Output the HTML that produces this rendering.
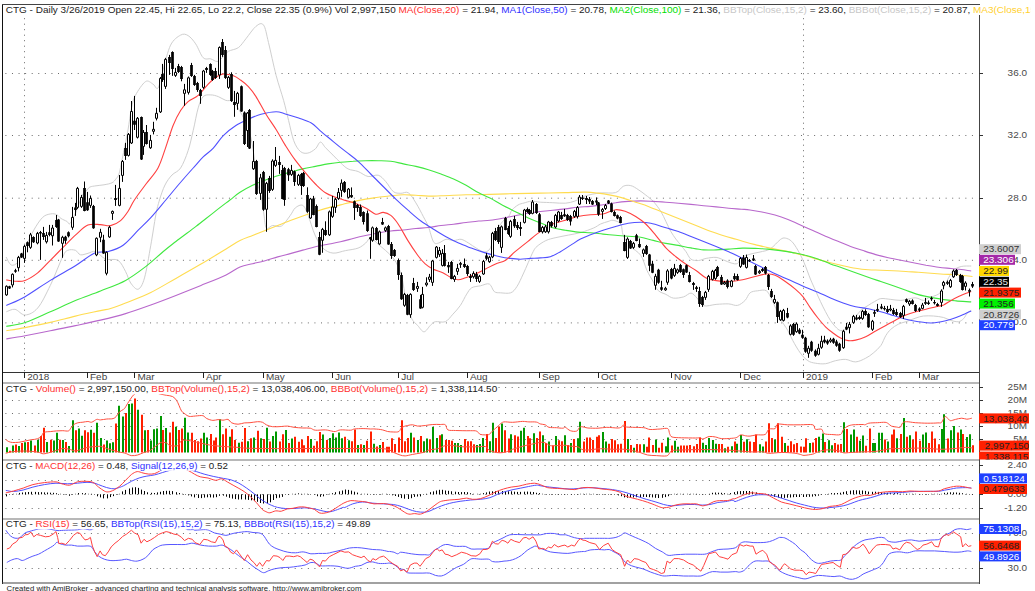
<!DOCTYPE html>
<html><head><meta charset="utf-8"><title>CTG - Daily</title>
<style>html,body{margin:0;padding:0;background:#fff}svg{display:block}</style>
</head><body>
<svg width="1035" height="591" viewBox="0 0 1035 591" font-family="'Liberation Sans', sans-serif">
<rect width="1035" height="591" fill="#fff"/>
<defs>
<clipPath id="cm"><rect x="3" y="5" width="976" height="367"/></clipPath>
<clipPath id="cv"><rect x="3" y="384" width="976" height="76"/></clipPath>
<clipPath id="cd"><rect x="3" y="461" width="976" height="57"/></clipPath>
<clipPath id="cr"><rect x="3" y="520" width="976" height="63"/></clipPath>
<clipPath id="ct"><rect x="0" y="0" width="1030.5" height="20"/></clipPath>
<clipPath id="cl"><rect x="975" y="440" width="54.2" height="19.6"/></clipPath>
</defs>
<line x1="5.4" y1="73.5" x2="977" y2="73.5" stroke="#6a6a6a" stroke-width="1" stroke-dasharray="1 5.575"/>
<line x1="5.4" y1="135.5" x2="977" y2="135.5" stroke="#6a6a6a" stroke-width="1" stroke-dasharray="1 5.575"/>
<line x1="5.4" y1="198.2" x2="977" y2="198.2" stroke="#6a6a6a" stroke-width="1" stroke-dasharray="1 5.575"/>
<line x1="5.4" y1="260.3" x2="977" y2="260.3" stroke="#6a6a6a" stroke-width="1" stroke-dasharray="1 5.575"/>
<line x1="5.4" y1="322.9" x2="977" y2="322.9" stroke="#6a6a6a" stroke-width="1" stroke-dasharray="1 5.575"/>
<line x1="24.5" y1="18.2" x2="24.5" y2="372" stroke="#6a6a6a" stroke-width="1" stroke-dasharray="1 4.5"/>
<line x1="803.5" y1="18.2" x2="803.5" y2="372" stroke="#6a6a6a" stroke-width="1" stroke-dasharray="1 4.5"/>
<line x1="5.4" y1="387.5" x2="977" y2="387.5" stroke="#6a6a6a" stroke-width="1" stroke-dasharray="1 5.575"/>
<line x1="5.4" y1="400.5" x2="977" y2="400.5" stroke="#6a6a6a" stroke-width="1" stroke-dasharray="1 5.575"/>
<line x1="5.4" y1="413.5" x2="977" y2="413.5" stroke="#6a6a6a" stroke-width="1" stroke-dasharray="1 5.575"/>
<line x1="5.4" y1="426.5" x2="977" y2="426.5" stroke="#6a6a6a" stroke-width="1" stroke-dasharray="1 5.575"/>
<line x1="5.4" y1="439.5" x2="977" y2="439.5" stroke="#6a6a6a" stroke-width="1" stroke-dasharray="1 5.575"/>
<line x1="5.4" y1="465.5" x2="977" y2="465.5" stroke="#6a6a6a" stroke-width="1" stroke-dasharray="1 5.575"/>
<line x1="5.4" y1="480.5" x2="977" y2="480.5" stroke="#6a6a6a" stroke-width="1" stroke-dasharray="1 5.575"/>
<line x1="5.4" y1="494.5" x2="977" y2="494.5" stroke="#6a6a6a" stroke-width="1" stroke-dasharray="1 5.575"/>
<line x1="5.4" y1="508.5" x2="977" y2="508.5" stroke="#6a6a6a" stroke-width="1" stroke-dasharray="1 5.575"/>
<line x1="5.4" y1="533.5" x2="977" y2="533.5" stroke="#6a6a6a" stroke-width="1" stroke-dasharray="1 5.575"/>
<line x1="5.4" y1="568.5" x2="977" y2="568.5" stroke="#6a6a6a" stroke-width="1" stroke-dasharray="1 5.575"/>
<g clip-path="url(#cm)">
<path d="M6.1,257.0 C6.9,258.3 9.2,264.2 11.2,265.0 C13.2,265.8 15.7,264.8 18.0,262.0 C20.3,259.2 22.4,253.2 25.0,248.0 C27.6,242.8 30.6,235.7 33.5,230.6 C36.4,225.5 39.7,220.2 42.6,217.4 C45.5,214.6 48.3,214.4 50.7,213.9 C53.1,213.4 55.1,213.9 56.8,214.7 C58.5,215.4 59.2,217.3 60.9,218.4 C62.6,219.5 65.4,220.6 66.9,221.4 C68.4,222.2 68.5,225.1 70.0,223.5 C71.5,221.9 74.0,216.6 76.0,212.0 C78.0,207.4 80.2,199.7 82.0,196.0 C83.8,192.3 85.7,191.5 87.0,190.0 C88.3,188.5 88.5,187.7 90.0,187.0 C91.5,186.3 93.7,186.2 96.0,185.8 C98.3,185.4 101.3,185.3 104.0,184.8 C106.7,184.3 110.0,183.8 112.0,182.8 C114.0,181.8 114.8,180.3 116.0,178.8 C117.2,177.3 118.0,177.0 119.0,173.9 C120.0,170.8 121.0,164.8 122.0,160.0 C123.0,155.2 124.0,150.0 125.0,145.0 C126.0,140.0 126.9,136.2 128.0,130.0 C129.1,123.8 130.3,113.8 131.5,108.0 C132.7,102.2 133.1,99.8 135.4,95.4 C137.7,91.0 142.6,83.5 145.5,81.6 C148.4,79.7 150.9,83.0 153.0,84.1 C155.1,85.2 156.3,90.3 158.0,88.0 C159.7,85.7 160.9,77.2 163.0,70.0 C165.1,62.9 167.7,50.9 170.6,45.1 C173.5,39.3 177.7,36.7 180.6,35.1 C183.5,33.5 185.6,34.1 188.1,35.6 C190.6,37.1 193.2,40.2 195.7,43.9 C198.2,47.6 200.7,55.2 203.2,57.7 C205.7,60.2 208.5,58.3 210.8,58.9 C213.1,59.5 215.1,61.6 217.0,61.5 C218.9,61.4 220.1,59.7 222.0,58.0 C223.9,56.3 225.6,53.1 228.3,51.4 C231.0,49.7 235.5,49.7 238.4,47.6 C241.3,45.5 243.0,42.3 245.9,38.8 C248.8,35.2 253.1,28.6 256.0,26.3 C258.9,24.0 261.4,22.3 263.5,25.0 C265.6,27.7 266.4,34.2 268.5,42.6 C270.6,51.0 273.6,65.7 276.1,75.3 C278.6,84.9 281.5,92.9 283.6,100.4 C285.7,107.9 286.9,113.8 288.6,120.5 C290.3,127.2 291.8,135.4 293.7,140.6 C295.6,145.8 297.9,149.3 300.3,151.4 C302.7,153.5 305.3,153.5 307.8,153.1 C310.3,152.7 313.3,150.6 315.4,148.8 C317.5,147.0 318.7,142.3 320.4,142.1 C322.1,141.9 323.3,145.4 325.4,147.6 C327.5,149.8 330.5,152.6 333.0,155.1 C335.5,157.6 338.0,160.4 340.5,162.7 C343.0,165.0 345.1,167.4 348.0,168.9 C350.9,170.4 354.8,170.2 358.1,171.5 C361.5,172.8 364.8,175.9 368.1,176.5 C371.5,177.1 375.3,174.4 378.2,175.2 C381.1,176.0 383.2,178.8 385.7,181.5 C388.2,184.2 390.8,189.6 393.3,191.6 C395.8,193.6 398.3,193.1 400.8,193.3 C403.3,193.5 405.8,191.2 408.3,192.8 C410.8,194.4 413.4,198.9 415.9,202.9 C418.4,206.9 421.3,212.7 423.4,216.7 C425.5,220.7 426.7,222.5 428.4,226.7 C430.1,230.9 431.8,239.1 433.5,241.8 C435.2,244.5 436.4,243.5 438.5,243.1 C440.6,242.7 443.5,239.7 446.0,239.3 C448.5,238.9 451.1,240.6 453.6,240.6 C456.1,240.6 458.6,238.9 461.1,239.3 C463.6,239.7 466.1,241.6 468.6,243.1 C471.1,244.6 473.7,246.6 476.2,248.1 C478.7,249.6 481.6,251.6 483.7,251.9 C485.8,252.2 487.6,251.3 489.0,250.0 C490.4,248.7 490.8,246.8 492.0,244.0 C493.2,241.2 494.7,236.2 496.0,233.0 C497.3,229.8 498.5,227.3 500.0,225.0 C501.5,222.7 503.5,220.5 505.0,219.0 C506.5,217.5 507.8,217.5 509.0,216.0 C510.2,214.5 510.5,211.8 512.0,210.0 C513.5,208.2 516.0,206.2 518.0,205.0 C520.0,203.8 521.8,203.6 524.0,203.0 C526.2,202.4 528.8,201.3 531.5,201.2 C534.2,201.1 536.8,201.9 540.3,202.2 C543.8,202.4 548.6,202.5 552.8,202.7 C557.0,202.9 561.7,203.5 565.4,203.2 C569.1,202.9 571.7,202.2 575.0,201.0 C578.3,199.8 580.8,197.3 585.0,196.0 C589.2,194.7 594.9,193.6 600.0,193.0 C605.1,192.4 611.7,193.7 615.6,192.6 C619.5,191.5 620.7,187.5 623.2,186.3 C625.7,185.1 628.2,185.1 630.7,185.6 C633.2,186.1 635.7,188.0 638.2,189.6 C640.7,191.2 643.3,193.1 645.8,195.1 C648.3,197.1 650.8,198.7 653.3,201.4 C655.8,204.1 658.8,208.2 660.9,211.5 C663.0,214.8 664.2,218.2 665.9,221.5 C667.6,224.8 669.2,228.7 670.9,231.6 C672.6,234.5 674.2,236.8 675.9,239.1 C677.6,241.4 679.3,243.3 681.0,245.4 C682.7,247.5 684.3,249.4 686.0,251.7 C687.7,254.0 688.9,257.7 691.0,259.2 C693.1,260.7 696.0,260.6 698.5,260.5 C701.0,260.4 703.2,258.9 706.1,258.4 C709.0,257.9 713.2,257.1 716.1,257.4 C719.0,257.7 721.2,259.1 723.7,260.0 C726.2,260.9 728.9,262.4 731.2,263.0 C733.5,263.6 735.8,264.4 737.5,263.5 C739.2,262.6 739.2,259.4 741.3,257.9 C743.4,256.3 746.9,255.2 750.0,254.2 C753.1,253.2 756.6,252.9 760.0,252.0 C763.4,251.1 766.8,251.0 770.2,248.9 C773.6,246.8 777.8,241.4 780.3,239.6 C782.8,237.8 783.4,237.8 785.3,238.1 C787.2,238.4 789.5,239.3 791.6,241.3 C793.7,243.3 795.7,246.5 797.8,250.1 C799.9,253.7 802.0,257.9 804.1,262.7 C806.2,267.5 808.5,274.4 810.4,279.0 C812.3,283.6 813.7,286.5 815.4,290.3 C817.1,294.1 818.8,298.0 820.5,301.6 C822.2,305.2 823.8,308.6 825.5,311.7 C827.2,314.8 828.8,318.0 830.5,320.5 C832.2,323.0 833.8,325.1 835.5,326.8 C837.2,328.5 838.5,330.3 840.6,330.5 C842.7,330.7 845.6,330.1 848.0,328.0 C850.4,325.9 852.9,320.9 855.0,318.0 C857.1,315.1 858.5,312.5 860.7,310.4 C862.9,308.3 865.9,306.9 868.2,305.4 C870.5,303.9 872.4,302.7 874.5,301.6 C876.6,300.5 878.1,299.0 880.8,298.6 C883.5,298.2 887.4,299.1 890.8,299.4 C894.1,299.7 898.0,300.5 900.9,300.4 C903.8,300.3 905.5,299.4 908.0,299.0 C910.5,298.6 913.3,297.7 915.9,297.9 C918.5,298.1 921.4,300.4 923.5,300.4 C925.6,300.4 926.0,298.9 928.5,297.9 C931.0,296.8 936.0,295.8 938.5,294.1 C941.0,292.4 941.9,290.5 943.6,287.8 C945.3,285.1 946.9,280.7 948.6,277.8 C950.3,274.9 951.5,272.1 953.6,270.2 C955.7,268.3 958.3,267.2 961.2,266.5 C964.1,265.8 969.5,266.1 971.2,266.0" fill="none" stroke="#cfcfcf" stroke-width="1" stroke-linejoin="round" opacity="1"/>
<path d="M6.3,311.8 C7.8,311.4 11.9,308.8 15.0,309.3 C18.1,309.8 21.3,315.2 25.1,315.0 C28.9,314.8 33.5,312.9 37.7,308.0 C41.9,303.1 46.1,294.0 50.3,285.4 C54.5,276.8 59.9,262.4 62.8,256.5 C65.7,250.7 65.7,251.3 67.8,250.3 C69.9,249.3 73.3,249.6 75.4,250.3 C77.5,251.1 78.3,254.3 80.4,254.8 C82.5,255.3 85.5,253.9 88.0,253.3 C90.5,252.8 92.6,250.6 95.5,251.5 C98.4,252.4 101.8,257.5 105.5,259.0 C109.2,260.5 114.7,258.2 118.0,260.3 C121.3,262.4 123.5,267.8 125.6,271.6 C127.7,275.4 128.6,280.1 130.7,283.0 C132.8,285.9 135.9,290.1 138.2,289.2 C140.5,288.3 142.4,285.2 144.5,277.9 C146.6,270.6 148.9,255.7 150.8,245.2 C152.7,234.7 154.4,222.5 155.8,215.0 C157.2,207.5 158.0,205.0 159.5,200.0 C161.0,195.0 162.9,189.2 165.0,185.0 C167.1,180.8 169.4,177.8 172.0,175.0 C174.6,172.2 177.9,172.1 180.6,168.0 C183.3,163.9 186.0,156.9 188.1,150.7 C190.2,144.5 191.5,137.7 193.2,130.6 C194.9,123.5 196.5,113.6 198.2,107.9 C199.9,102.2 201.1,98.8 203.2,96.6 C205.3,94.4 208.3,94.9 210.8,94.9 C213.3,94.9 215.8,95.7 218.3,96.6 C220.8,97.5 223.3,99.6 225.8,100.4 C228.3,101.2 230.9,99.6 233.4,101.7 C235.9,103.8 238.8,109.5 240.9,113.0 C243.0,116.5 244.2,118.8 245.9,123.0 C247.6,127.2 249.5,131.8 251.0,138.1 C252.5,144.4 253.5,152.9 254.7,160.7 C255.9,168.5 256.9,178.8 258.0,185.0 C259.1,191.2 260.4,192.8 261.4,197.8 C262.4,202.8 263.2,210.0 264.0,215.0 C264.8,220.0 264.9,226.2 266.4,228.0 C267.8,229.8 270.2,225.8 272.7,225.5 C275.2,225.2 278.6,227.7 281.5,226.0 C284.4,224.3 288.0,218.4 290.3,215.4 C292.6,212.4 293.2,209.6 295.3,207.9 C297.4,206.2 300.7,204.2 302.8,205.4 C304.9,206.6 306.0,210.1 308.0,215.0 C310.0,219.9 312.5,229.5 315.0,235.0 C317.5,240.5 319.9,245.1 322.9,248.1 C325.9,251.1 329.2,252.7 333.0,253.1 C336.8,253.5 341.3,251.4 345.5,250.6 C349.7,249.8 354.8,249.3 358.1,248.1 C361.5,246.8 363.5,244.8 365.6,243.1 C367.7,241.4 368.6,237.8 370.7,238.0 C372.8,238.2 375.7,242.2 378.2,244.3 C380.7,246.4 383.2,248.3 385.7,250.6 C388.2,252.9 391.2,255.4 393.3,258.1 C395.4,260.8 396.8,263.6 398.3,266.9 C399.8,270.2 400.8,272.5 402.1,278.0 C403.4,283.5 404.4,293.3 406.0,300.0 C407.6,306.7 409.4,313.8 411.4,318.0 C413.3,322.2 415.6,323.2 417.7,325.5 C419.8,327.8 421.9,331.8 424.0,331.8 C426.1,331.8 428.4,327.2 430.3,325.5 C432.2,323.8 432.8,322.3 435.3,321.7 C437.8,321.1 442.4,322.9 445.3,321.7 C448.2,320.4 450.4,316.9 452.9,314.2 C455.4,311.5 458.1,308.8 460.4,305.4 C462.7,302.0 464.8,297.0 466.7,294.1 C468.6,291.2 469.4,289.2 471.7,287.8 C474.0,286.4 477.6,286.4 480.5,285.8 C483.4,285.2 487.0,283.0 489.3,284.0 C491.6,285.0 492.4,290.1 494.3,291.6 C496.2,293.1 497.9,292.6 500.6,292.8 C503.3,293.0 508.0,293.8 510.7,292.8 C513.4,291.8 514.8,289.7 516.9,286.6 C519.0,283.5 521.3,278.0 523.2,274.0 C525.1,270.0 526.5,266.5 528.2,262.7 C529.9,258.9 531.8,254.1 533.3,251.4 C534.8,248.7 534.9,248.2 537.0,246.4 C539.1,244.6 542.6,242.1 545.8,240.6 C548.9,239.1 552.1,238.5 555.9,237.6 C559.7,236.7 564.2,235.9 568.4,235.1 C572.6,234.2 576.8,233.7 581.0,232.5 C585.2,231.3 590.3,229.4 593.6,228.0 C596.9,226.6 598.2,225.1 600.6,224.0 C603.0,222.9 606.0,222.1 608.1,221.5 C610.2,220.9 611.0,219.9 613.1,220.3 C615.2,220.7 619.0,221.5 620.7,224.0 C622.4,226.5 621.7,231.6 623.2,235.3 C624.8,239.0 627.1,242.7 630.0,246.0 C632.9,249.3 638.0,251.3 640.8,255.4 C643.6,259.5 644.9,266.1 647.0,270.5 C649.1,274.9 651.4,278.4 653.3,281.8 C655.2,285.2 656.2,288.5 658.3,290.6 C660.4,292.7 663.4,293.1 665.9,294.4 C668.4,295.6 670.5,297.7 673.4,298.1 C676.3,298.5 680.6,297.7 683.5,296.9 C686.4,296.1 688.8,292.9 691.0,293.1 C693.2,293.3 694.9,295.9 697.0,298.0 C699.1,300.1 700.4,304.6 703.6,305.7 C706.8,306.8 711.9,304.7 716.1,304.4 C720.3,304.1 725.1,303.7 728.7,303.9 C732.3,304.1 734.8,306.0 737.5,305.4 C740.2,304.8 743.0,302.5 745.1,300.4 C747.2,298.3 748.0,294.4 750.1,292.8 C752.2,291.2 754.9,291.1 757.6,290.8 C760.3,290.5 764.0,289.3 766.4,290.8 C768.8,292.3 769.7,295.5 772.0,300.0 C774.3,304.5 777.4,312.9 780.0,318.0 C782.6,323.1 785.7,326.7 787.8,330.5 C789.9,334.3 790.7,336.8 792.8,340.6 C794.9,344.4 797.9,349.8 800.4,353.1 C802.9,356.5 805.4,359.0 807.9,360.7 C810.4,362.4 812.5,362.7 815.4,363.2 C818.3,363.7 822.1,364.1 825.5,363.7 C828.9,363.3 832.1,361.4 835.5,360.7 C838.9,360.0 842.2,359.2 845.6,359.4 C849.0,359.6 852.2,362.1 855.6,361.9 C859.0,361.7 862.8,359.7 865.7,358.2 C868.6,356.7 870.7,355.2 873.2,353.1 C875.7,351.0 878.7,348.5 880.8,345.6 C882.9,342.7 884.1,338.3 885.8,335.6 C887.5,332.9 888.7,331.2 890.8,329.3 C892.9,327.4 895.8,325.5 898.3,324.2 C900.8,322.9 903.0,322.7 905.9,321.7 C908.8,320.7 913.0,318.9 915.9,318.0 C918.8,317.1 920.6,316.3 923.5,316.0 C926.4,315.7 930.1,315.8 933.5,316.0 C936.9,316.2 940.7,316.8 943.6,317.5 C946.5,318.2 948.6,319.8 951.1,320.5 C953.6,321.2 956.5,322.0 958.6,321.7 C960.7,321.4 962.2,320.0 963.7,318.5 C965.2,317.0 966.1,314.2 967.4,312.9 C968.6,311.5 970.6,310.8 971.2,310.4" fill="none" stroke="#cfcfcf" stroke-width="1" stroke-linejoin="round" opacity="1"/>
<path d="M6.3,338.9 C9.4,338.4 17.8,337.1 25.1,335.7 C32.4,334.3 41.9,332.4 50.3,330.7 C58.7,329.0 67.0,327.4 75.4,325.6 C83.8,323.8 92.1,322.1 100.5,320.1 C108.9,318.1 117.2,316.1 125.6,313.6 C134.0,311.1 142.4,308.0 150.8,305.0 C159.2,302.0 167.5,298.8 175.9,295.5 C184.3,292.2 192.6,288.8 201.0,285.4 C209.4,282.0 219.6,278.0 226.1,274.9 C232.6,271.8 235.6,268.8 240.0,266.9 C244.4,265.0 248.4,264.7 252.6,263.7 C256.8,262.7 260.9,261.8 265.1,260.7 C269.3,259.6 273.5,258.1 277.7,256.9 C281.9,255.7 286.1,254.7 290.3,253.6 C294.5,252.5 298.6,251.2 302.8,250.1 C307.0,249.0 311.2,247.8 315.4,246.8 C319.6,245.8 323.7,245.1 327.9,244.3 C332.1,243.5 336.3,242.8 340.5,241.8 C344.7,240.8 348.9,239.6 353.1,238.5 C357.3,237.4 361.4,236.4 365.6,235.5 C369.8,234.6 374.0,233.8 378.2,233.0 C382.4,232.2 386.6,231.5 390.8,231.0 C395.0,230.5 399.1,230.4 403.3,230.0 C407.5,229.6 411.7,228.9 415.9,228.5 C420.1,228.1 424.2,228.0 428.4,227.5 C432.6,227.0 436.8,226.1 441.0,225.5 C445.2,224.9 449.4,224.7 453.6,224.2 C457.8,223.7 461.9,223.0 466.1,222.5 C470.3,222.0 474.7,221.4 478.7,221.0 C482.7,220.6 486.0,220.8 490.0,220.3 C494.0,219.8 498.4,219.0 502.6,218.2 C506.8,217.4 510.9,216.5 515.1,215.7 C519.3,214.9 523.5,213.9 527.7,213.2 C531.9,212.5 536.1,212.0 540.3,211.5 C544.5,211.0 548.6,210.6 552.8,210.2 C557.0,209.8 561.2,209.4 565.4,208.9 C569.6,208.4 573.7,207.6 577.9,207.2 C582.1,206.8 586.3,206.8 590.5,206.4 C594.7,206.0 598.9,205.3 603.1,204.7 C607.3,204.1 611.4,203.2 615.6,202.7 C619.8,202.1 624.0,201.7 628.2,201.4 C632.4,201.1 636.6,200.9 640.8,200.9 C645.0,200.9 649.1,201.2 653.3,201.4 C657.5,201.6 661.7,201.9 665.9,202.2 C670.1,202.5 674.2,202.8 678.4,203.2 C682.6,203.6 686.8,204.0 691.0,204.4 C695.2,204.8 699.4,205.3 703.6,205.7 C707.8,206.1 711.9,206.5 716.1,206.9 C720.3,207.3 724.5,207.8 728.7,208.2 C732.9,208.6 737.8,208.9 741.3,209.2 C744.8,209.5 746.5,209.5 750.0,210.0 C753.5,210.5 757.8,211.2 762.0,212.0 C766.2,212.8 770.7,213.8 775.0,215.0 C779.3,216.2 783.8,217.8 788.0,219.5 C792.2,221.2 796.2,223.2 800.4,225.0 C804.5,226.8 808.7,228.6 812.9,230.5 C817.1,232.4 821.3,234.5 825.5,236.3 C829.7,238.1 833.8,239.6 838.0,241.3 C842.2,243.0 846.4,244.9 850.6,246.4 C854.8,247.9 859.0,249.2 863.2,250.6 C867.4,252.0 871.5,253.4 875.7,254.6 C879.9,255.8 884.1,256.8 888.3,257.7 C892.5,258.6 896.7,259.4 900.9,260.2 C905.1,261.0 909.2,261.9 913.4,262.7 C917.6,263.5 921.8,264.4 926.0,265.2 C930.2,265.9 934.3,266.6 938.5,267.2 C942.7,267.8 947.3,268.1 951.1,268.5 C954.9,268.9 957.9,269.1 961.2,269.5 C964.6,269.9 969.5,270.8 971.2,271.0" fill="none" stroke="#b868cc" stroke-width="1.1" stroke-linejoin="round" opacity="1"/>
<path d="M6.3,330.7 C9.4,330.2 17.8,329.0 25.1,327.6 C32.4,326.2 41.9,324.3 50.3,322.4 C58.7,320.5 67.0,318.1 75.4,316.1 C83.8,314.1 94.6,311.9 100.5,310.6 C106.4,309.3 106.4,309.8 110.6,308.5 C114.8,307.2 118.9,305.7 125.6,303.0 C132.3,300.3 142.4,296.6 150.8,292.5 C159.2,288.4 167.5,283.1 175.9,278.4 C184.3,273.7 192.6,269.0 201.0,264.1 C209.4,259.2 219.6,252.9 226.1,249.0 C232.6,245.1 235.6,242.8 240.0,240.6 C244.4,238.3 248.4,237.2 252.6,235.5 C256.8,233.8 260.9,232.2 265.1,230.5 C269.3,228.8 273.5,227.2 277.7,225.5 C281.9,223.8 286.1,222.1 290.3,220.5 C294.5,218.9 298.6,217.4 302.8,215.9 C307.0,214.4 311.2,213.0 315.4,211.7 C319.6,210.4 323.7,209.0 327.9,207.9 C332.1,206.8 336.3,206.0 340.5,204.9 C344.7,203.8 348.9,202.6 353.1,201.6 C357.3,200.6 361.4,199.8 365.6,199.1 C369.8,198.4 374.0,197.9 378.2,197.3 C382.4,196.8 386.6,196.2 390.8,195.8 C395.0,195.4 399.1,194.9 403.3,194.8 C407.5,194.7 411.7,195.1 415.9,195.3 C420.1,195.5 424.2,196.0 428.4,196.1 C432.6,196.2 436.8,195.9 441.0,195.8 C445.2,195.7 449.4,195.5 453.6,195.3 C457.8,195.1 461.9,194.9 466.1,194.8 C470.3,194.7 474.7,194.7 478.7,194.6 C482.7,194.5 483.9,194.6 490.0,194.4 C496.1,194.2 506.7,193.8 515.1,193.6 C523.5,193.4 531.9,193.3 540.3,193.1 C548.7,192.9 557.9,192.8 565.4,192.6 C572.9,192.4 580.1,192.0 585.5,192.1 C590.9,192.2 593.8,192.6 598.0,193.1 C602.2,193.6 606.4,194.3 610.6,195.1 C614.8,195.9 619.0,196.9 623.2,198.1 C627.4,199.3 631.5,200.8 635.7,202.2 C639.9,203.6 644.1,204.8 648.3,206.4 C652.5,208.0 656.7,209.8 660.9,211.5 C665.1,213.2 669.2,214.8 673.4,216.5 C677.6,218.2 681.8,219.8 686.0,221.5 C690.2,223.2 694.3,224.8 698.5,226.5 C702.7,228.2 706.9,230.0 711.1,231.6 C715.3,233.2 719.5,234.5 723.7,235.8 C727.9,237.1 733.1,238.4 736.2,239.3 C739.4,240.2 739.5,240.4 742.6,241.3 C745.8,242.2 750.9,243.6 755.1,244.6 C759.3,245.6 763.5,246.7 767.7,247.6 C771.9,248.5 776.1,249.3 780.3,250.1 C784.5,250.9 788.6,251.7 792.8,252.6 C797.0,253.5 801.2,254.6 805.4,255.7 C809.6,256.8 813.7,258.2 817.9,259.4 C822.1,260.6 826.3,261.6 830.5,262.7 C834.7,263.8 838.9,264.8 843.1,265.7 C847.3,266.6 851.4,267.5 855.6,268.2 C859.8,268.9 864.0,269.4 868.2,269.7 C872.4,270.0 876.6,270.0 880.8,270.2 C885.0,270.4 889.1,270.5 893.3,270.7 C897.5,270.9 901.7,271.2 905.9,271.5 C910.1,271.8 914.2,271.9 918.4,272.2 C922.6,272.5 926.8,272.9 931.0,273.2 C935.2,273.5 939.4,273.9 943.6,274.2 C947.8,274.4 952.3,274.4 956.1,274.7 C959.9,275.0 963.5,275.5 966.2,275.8 C968.9,276.1 971.5,276.4 972.5,276.5" fill="none" stroke="#ffdc50" stroke-width="1.1" stroke-linejoin="round" opacity="1"/>
<path d="M6.3,326.4 C9.4,325.8 17.8,325.0 25.1,322.6 C32.4,320.2 41.9,315.5 50.3,311.8 C58.7,308.1 67.0,304.0 75.4,300.5 C83.8,297.0 92.1,294.4 100.5,291.0 C108.9,287.6 118.1,284.5 125.6,280.4 C133.1,276.3 139.4,271.4 145.7,266.6 C152.0,261.8 158.3,255.7 163.3,251.5 C168.3,247.3 170.5,245.7 175.9,241.5 C181.3,237.3 189.7,231.2 196.0,226.4 C202.3,221.6 207.9,217.0 213.6,212.6 C219.2,208.2 225.5,203.4 229.9,200.0 C234.3,196.6 236.2,194.8 240.0,192.3 C243.8,189.9 248.4,187.3 252.6,185.3 C256.8,183.3 260.9,181.9 265.1,180.3 C269.3,178.7 273.5,177.0 277.7,175.7 C281.9,174.3 286.1,173.3 290.3,172.2 C294.5,171.1 298.6,169.9 302.8,168.9 C307.0,167.9 311.2,167.2 315.4,166.4 C319.6,165.6 323.7,164.6 327.9,163.9 C332.1,163.2 336.3,162.6 340.5,162.2 C344.7,161.8 348.9,161.4 353.1,161.2 C357.3,160.9 361.4,160.8 365.6,160.7 C369.8,160.6 374.0,160.6 378.2,160.7 C382.4,160.8 386.6,160.7 390.8,161.2 C395.0,161.7 399.1,163.0 403.3,163.9 C407.5,164.8 411.7,165.4 415.9,166.4 C420.1,167.4 424.2,168.4 428.4,169.7 C432.6,171.0 436.8,172.4 441.0,174.0 C445.2,175.6 449.4,177.1 453.6,179.0 C457.8,180.9 461.9,183.0 466.1,185.3 C470.3,187.6 474.7,190.7 478.7,192.8 C482.7,194.9 486.0,196.0 490.0,198.1 C494.0,200.2 498.4,203.0 502.6,205.2 C506.8,207.4 510.9,209.4 515.1,211.5 C519.3,213.6 523.5,215.8 527.7,217.7 C531.9,219.6 536.1,221.1 540.3,222.8 C544.5,224.5 548.6,226.6 552.8,227.8 C557.0,229.1 561.2,229.6 565.4,230.3 C569.6,231.0 573.7,231.7 577.9,232.1 C582.1,232.5 586.3,232.5 590.5,232.8 C594.7,233.1 598.9,233.7 603.1,234.1 C607.3,234.5 611.4,234.9 615.6,235.3 C619.8,235.7 624.0,236.0 628.2,236.3 C632.4,236.6 636.6,236.6 640.8,237.3 C645.0,238.0 649.1,239.4 653.3,240.4 C657.5,241.4 661.7,242.6 665.9,243.4 C670.1,244.2 674.2,244.7 678.4,245.4 C682.6,246.2 686.8,247.2 691.0,247.9 C695.2,248.7 699.4,249.6 703.6,249.9 C707.8,250.2 711.9,250.0 716.1,249.9 C720.3,249.8 724.3,249.4 728.7,249.1 C733.1,248.8 738.2,248.2 742.6,248.1 C747.0,248.0 750.9,248.2 755.1,248.4 C759.3,248.6 763.5,248.7 767.7,249.1 C771.9,249.5 776.1,250.0 780.3,250.6 C784.5,251.2 788.6,251.8 792.8,252.6 C797.0,253.4 801.2,254.1 805.4,255.2 C809.6,256.2 813.7,257.4 817.9,258.9 C822.1,260.3 826.3,262.3 830.5,263.9 C834.7,265.4 838.9,266.7 843.1,268.2 C847.3,269.7 851.4,271.2 855.6,272.7 C859.8,274.2 864.0,275.8 868.2,277.3 C872.4,278.8 876.6,280.1 880.8,281.5 C885.0,282.9 889.1,284.3 893.3,285.8 C897.5,287.3 901.7,288.8 905.9,290.3 C910.1,291.8 914.2,293.4 918.4,294.6 C922.6,295.8 926.8,296.6 931.0,297.4 C935.2,298.2 939.4,299.0 943.6,299.6 C947.8,300.2 951.5,300.5 956.1,300.9 C960.7,301.3 968.7,301.7 971.2,301.9" fill="none" stroke="#40e840" stroke-width="1.1" stroke-linejoin="round" opacity="1"/>
<path d="M6.3,305.5 C9.4,304.0 17.8,300.9 25.1,296.7 C32.4,292.5 41.9,285.5 50.3,280.4 C58.7,275.2 68.1,270.3 75.4,265.8 C82.7,261.3 88.8,255.7 94.2,253.3 C99.6,250.9 103.2,252.8 108.0,251.5 C112.8,250.2 118.1,248.8 123.1,245.2 C128.1,241.6 133.6,234.8 138.2,230.2 C142.8,225.6 146.2,222.6 150.8,217.6 C155.4,212.6 160.9,205.8 165.8,200.0 C170.7,194.2 175.4,188.3 180.0,183.0 C184.6,177.7 189.3,172.3 193.2,168.0 C197.1,163.7 199.8,160.2 203.2,156.9 C206.5,153.6 210.0,151.7 213.3,148.1 C216.7,144.5 219.5,139.4 223.3,135.6 C227.1,131.8 231.7,128.2 235.9,125.5 C240.1,122.8 244.2,121.1 248.4,119.2 C252.6,117.3 256.4,115.5 261.0,114.2 C265.6,113.0 271.9,111.7 276.1,111.7 C280.3,111.7 282.3,113.2 286.1,114.2 C289.9,115.2 294.5,116.5 298.7,118.0 C302.9,119.5 307.8,120.9 311.3,123.0 C314.9,125.1 316.4,127.5 320.0,130.6 C323.6,133.7 328.8,137.8 333.0,141.3 C337.2,144.8 341.3,148.1 345.5,151.4 C349.7,154.8 353.9,157.6 358.1,161.4 C362.3,165.2 366.5,169.8 370.7,174.0 C374.9,178.2 379.0,182.3 383.2,186.5 C387.4,190.7 391.6,195.1 395.8,199.1 C400.0,203.1 404.1,206.8 408.3,210.4 C412.5,214.1 416.7,217.9 420.9,221.0 C425.1,224.1 429.3,226.6 433.5,229.2 C437.7,231.8 441.8,234.5 446.0,236.8 C450.2,239.1 454.4,241.2 458.6,243.1 C462.8,245.0 467.0,246.5 471.2,248.1 C475.4,249.7 478.9,251.0 483.7,252.4 C488.5,253.8 495.7,255.7 500.1,256.7 C504.5,257.7 506.8,258.0 510.1,258.4 C513.5,258.8 516.9,259.2 520.2,259.2 C523.6,259.2 526.9,258.6 530.2,258.4 C533.6,258.2 536.9,258.2 540.3,257.9 C543.6,257.6 546.9,257.7 550.3,256.7 C553.6,255.7 557.0,253.6 560.4,251.7 C563.8,249.8 567.0,247.5 570.4,245.4 C573.8,243.3 577.1,240.9 580.5,239.1 C583.9,237.3 586.7,236.3 590.5,234.8 C594.3,233.3 598.9,231.7 603.1,230.3 C607.3,228.9 611.4,227.7 615.6,226.5 C619.8,225.3 624.0,224.0 628.2,223.3 C632.4,222.6 637.0,222.3 640.8,222.3 C644.6,222.3 646.6,222.4 650.8,223.3 C655.0,224.2 661.3,226.4 665.9,227.8 C670.5,229.2 674.2,230.1 678.4,231.6 C682.6,233.1 686.8,234.9 691.0,236.6 C695.2,238.3 699.4,239.9 703.6,241.6 C707.8,243.3 711.9,244.9 716.1,246.6 C720.3,248.3 724.3,249.8 728.7,251.7 C733.1,253.6 738.2,256.2 742.6,258.2 C747.0,260.2 750.9,261.9 755.1,263.9 C759.3,265.9 763.5,268.2 767.7,270.2 C771.9,272.2 776.1,274.1 780.3,276.0 C784.5,277.9 788.6,279.6 792.8,281.5 C797.0,283.4 801.2,285.5 805.4,287.3 C809.6,289.1 813.7,290.5 817.9,292.3 C822.1,294.1 826.3,296.1 830.5,297.9 C834.7,299.7 838.9,301.4 843.1,302.9 C847.3,304.4 851.4,305.7 855.6,306.7 C859.8,307.7 864.0,307.9 868.2,308.7 C872.4,309.5 876.6,310.6 880.8,311.7 C885.0,312.8 889.1,314.2 893.3,315.5 C897.5,316.8 901.7,318.2 905.9,319.2 C910.1,320.2 914.2,321.1 918.4,321.7 C922.6,322.3 927.2,323.0 931.0,323.0 C934.8,323.0 937.8,322.3 941.1,321.7 C944.5,321.1 947.8,320.2 951.1,319.2 C954.5,318.2 957.9,316.9 961.2,315.5 C964.6,314.1 969.5,311.7 971.2,310.9" fill="none" stroke="#5050ff" stroke-width="1.1" stroke-linejoin="round" opacity="1"/>
<path d="M6.3,279.9 C7.8,280.1 12.0,281.1 15.1,281.2 C18.2,281.3 21.3,281.8 25.1,280.4 C28.9,279.0 33.5,276.2 37.7,272.9 C41.9,269.5 46.1,264.5 50.3,260.3 C54.5,256.1 58.6,251.9 62.8,247.7 C67.0,243.5 71.2,239.0 75.4,235.2 C79.6,231.4 83.7,226.9 87.9,225.1 C92.1,223.3 96.7,224.5 100.5,224.6 C104.3,224.7 107.2,226.3 110.6,225.6 C113.9,224.9 117.7,223.0 120.6,220.6 C123.5,218.2 125.8,214.7 128.1,211.3 C130.4,207.9 131.4,204.6 134.4,200.0 C137.4,195.4 142.1,189.3 146.0,184.0 C149.9,178.7 154.8,174.0 158.0,168.0 C161.2,162.0 163.0,155.2 165.5,148.1 C168.0,141.0 170.6,131.8 173.1,125.5 C175.6,119.2 178.1,114.5 180.6,110.5 C183.1,106.5 185.2,104.2 188.1,101.7 C191.0,99.2 194.8,98.3 198.2,95.4 C201.5,92.5 205.3,87.1 208.2,84.1 C211.1,81.1 213.3,79.0 215.8,77.3 C218.3,75.6 220.4,74.2 223.3,74.0 C226.2,73.8 230.5,74.8 233.4,75.8 C236.3,76.8 238.4,78.5 240.9,80.3 C243.4,82.1 245.9,83.9 248.4,86.6 C250.9,89.3 253.1,92.0 256.0,96.6 C258.9,101.2 262.6,108.6 266.0,114.2 C269.4,119.8 273.2,124.8 276.4,130.0 C279.6,135.2 282.0,140.1 285.2,145.1 C288.4,150.1 291.9,155.6 295.3,160.2 C298.7,164.8 302.0,168.7 305.3,172.7 C308.6,176.7 312.0,180.7 315.4,184.0 C318.8,187.3 322.0,190.6 325.4,192.8 C328.8,195.0 332.1,196.0 335.5,197.3 C338.9,198.6 342.1,199.4 345.5,200.4 C348.9,201.4 352.2,202.2 355.6,203.4 C359.0,204.7 362.2,206.1 365.6,207.9 C369.0,209.7 372.8,213.4 375.7,214.2 C378.6,214.9 380.7,212.2 383.2,212.4 C385.7,212.6 388.3,213.4 390.8,215.4 C393.3,217.4 395.5,220.1 398.3,224.2 C401.1,228.3 404.4,234.9 407.6,240.1 C410.8,245.3 414.8,251.2 417.7,255.2 C420.6,259.2 422.7,261.6 425.2,263.9 C427.7,266.2 429.9,267.5 432.8,269.0 C435.7,270.5 439.9,271.3 442.8,272.7 C445.7,274.1 447.9,276.1 450.4,277.3 C452.9,278.5 455.4,279.7 457.9,279.8 C460.4,279.9 462.5,278.8 465.4,277.8 C468.3,276.8 472.1,275.5 475.5,274.0 C478.9,272.5 482.1,270.7 485.5,269.0 C488.9,267.3 492.2,265.4 495.6,263.9 C499.0,262.4 502.4,262.2 505.6,260.2 C508.9,258.2 511.4,254.8 515.1,251.7 C518.8,248.6 523.5,244.9 527.7,241.6 C531.9,238.2 536.1,234.5 540.3,231.6 C544.5,228.7 548.6,225.9 552.8,224.0 C557.0,222.1 561.2,221.6 565.4,220.3 C569.6,219.1 573.7,217.4 577.9,216.5 C582.1,215.6 586.3,215.1 590.5,214.7 C594.7,214.3 598.9,214.8 603.1,214.0 C607.3,213.2 611.8,210.1 615.6,209.7 C619.4,209.3 622.4,210.4 625.7,211.5 C629.1,212.6 632.4,214.4 635.7,216.5 C639.1,218.6 642.4,220.9 645.8,224.0 C649.1,227.1 652.4,231.3 655.8,235.3 C659.1,239.3 662.5,244.3 665.9,247.9 C669.2,251.5 672.5,254.0 675.9,256.7 C679.2,259.4 682.6,261.9 686.0,264.2 C689.4,266.5 692.6,268.2 696.0,270.5 C699.4,272.8 702.8,276.3 706.1,278.0 C709.5,279.7 712.3,280.0 716.1,280.6 C719.9,281.2 724.3,281.7 728.7,281.6 C733.1,281.5 738.2,280.7 742.6,279.8 C747.0,278.9 751.1,277.5 755.1,276.5 C759.1,275.5 763.0,274.2 766.4,274.0 C769.8,273.8 772.1,274.1 775.2,275.3 C778.4,276.6 781.9,279.2 785.3,281.5 C788.6,283.8 792.4,286.6 795.3,289.1 C798.2,291.6 800.4,293.5 802.9,296.6 C805.4,299.7 807.9,304.3 810.4,307.9 C812.9,311.5 815.4,314.9 817.9,318.0 C820.4,321.1 823.0,324.3 825.5,326.8 C828.0,329.3 830.5,331.1 833.0,333.0 C835.5,334.9 838.1,336.8 840.6,338.1 C843.1,339.4 845.6,340.3 848.1,340.6 C850.6,340.9 852.7,340.7 855.6,340.1 C858.5,339.5 862.4,338.3 865.7,336.8 C869.1,335.3 872.4,332.9 875.7,331.0 C879.1,329.1 882.4,327.3 885.8,325.5 C889.1,323.7 892.4,321.8 895.8,320.0 C899.1,318.2 902.5,316.3 905.9,314.9 C909.2,313.5 912.5,312.6 915.9,311.7 C919.2,310.8 922.6,310.0 926.0,309.2 C929.4,308.4 933.1,307.4 936.0,306.7 C938.9,306.0 941.1,305.9 943.6,304.9 C946.1,303.8 948.6,301.8 951.1,300.4 C953.6,299.0 956.1,297.8 958.6,296.6 C961.1,295.4 964.1,294.1 966.2,293.3 C968.3,292.5 970.4,291.9 971.2,291.6" fill="none" stroke="#ff4040" stroke-width="1.1" stroke-linejoin="round" opacity="1"/>
<path d="M6.5,285.4V295.8M9.5,285.8V289.0M12.5,273.4V287.4M15.5,268.8V272.8M18.5,255.9V271.4M21.5,252.9V257.9M24.5,244.9V262.9M27.5,241.5V252.3M30.5,232.9V248.9M33.5,236.3V242.9M37.5,231.9V244.3M40.5,230.9V259.9M43.5,226.9V239.9M46.5,231.9V243.5M49.5,224.9V236.3M52.5,224.9V245.5M56.5,215.0V227.9M58.5,218.9V241.9M62.5,235.8V257.8M65.5,235.8V243.8M68.5,231.4V237.4M72.5,206.9V229.8M75.5,202.9V215.9M77.5,186.9V208.9M81.5,194.9V207.9M84.5,181.5V211.3M87.5,191.9V210.9M90.5,195.5V207.9M93.5,204.9V228.8M96.5,237.4V256.2M100.5,228.8V242.2M103.5,234.8V253.8M106.5,251.4V275.3M109.5,225.8V237.8M112.5,210.5V219.9M115.5,184.9V205.9M119.5,175.0V206.3M122.5,160.0V181.9M125.5,142.9V159.9M128.5,133.0V156.5M131.5,101.0V144.0M134.5,95.9V130.0M137.5,117.0V138.5M141.5,116.5V160.0M143.5,130.0V154.9M146.5,125.0V144.5M150.5,134.9V148.9M153.5,121.8V134.4M156.5,107.8V120.4M160.5,77.0V113.0M162.5,63.9V81.9M165.5,57.9V88.9M169.5,54.9V74.9M172.5,51.3V75.9M175.5,67.9V76.9M178.5,63.9V72.9M181.5,65.9V81.3M184.5,83.9V105.8M188.5,76.5V94.5M191.5,62.9V76.9M194.5,74.9V85.9M197.5,81.9V91.9M200.5,88.9V103.8M203.5,69.9V88.9M206.5,66.9V72.9M210.5,63.3V75.9M212.5,69.9V80.9M215.5,67.9V78.9M219.5,46.4V78.9M222.5,39.0V56.9M225.5,46.0V78.9M228.5,75.9V88.9M231.5,72.3V101.9M234.5,90.9V116.8M237.5,91.9V109.8M241.5,85.5V111.8M244.5,111.4V145.0M247.5,112.0V147.0M249.5,109.0V149.0M253.5,141.0V169.9M256.5,159.9V194.9M260.5,173.9V199.9M263.5,170.9V210.8M266.5,181.9V231.8M269.5,175.9V192.9M272.5,159.3V190.9M275.5,147.0V166.9M279.5,155.9V173.9M282.5,164.9V199.3M284.5,166.9V205.8M288.5,167.9V180.9M291.5,164.9V175.9M294.5,170.5V185.9M298.5,173.9V185.9M301.5,172.9V194.9M303.5,171.9V186.9M307.5,187.3V212.8M310.5,197.9V218.9M313.5,195.9V215.3M316.5,204.5V227.3M319.5,231.9V255.2M322.5,227.9V252.8M325.5,221.3V235.9M329.5,210.5V235.9M332.5,195.9V217.9M335.5,197.9V212.9M338.5,188.0V199.9M341.5,179.4V196.9M344.5,181.0V192.9M348.5,188.0V198.5M351.5,187.4V197.9M354.5,200.5V219.9M357.5,203.9V211.9M360.5,204.5V216.9M363.5,211.3V224.5M367.5,210.5V231.9M370.5,236.9V258.8M372.5,226.5V241.8M376.5,226.9V240.4M379.5,230.5V244.8M382.5,217.9V224.9M385.5,226.5V231.9M388.5,224.9V244.8M391.5,242.0V258.9M394.5,249.0V256.9M398.5,258.5V279.9M401.5,272.5V299.9M404.5,292.9V306.8M407.5,293.9V315.2M410.5,293.3V317.8M413.5,277.9V290.9M417.5,281.9V291.9M420.5,294.9V308.8M422.5,286.9V308.4M426.5,277.3V286.5M429.5,273.9V281.9M432.5,259.9V285.9M436.5,246.0V258.5M439.5,247.0V256.9M442.5,249.0V266.5M444.5,245.0V266.5M448.5,261.9V272.9M451.5,260.9V279.3M454.5,274.9V281.9M457.5,263.9V274.9M460.5,261.9V267.9M464.5,258.5V267.9M467.5,264.9V275.9M470.5,273.9V281.9M473.5,271.3V278.5M476.5,271.9V281.9M479.5,274.9V282.9M483.5,259.9V274.9M486.5,252.9V260.2M489.5,255.8V262.8M492.5,231.9V258.2M495.5,227.9V240.9M498.5,224.9V243.9M501.5,225.5V252.9M505.5,216.9V230.3M508.5,225.9V234.9M510.5,219.9V237.9M514.5,215.9V227.9M517.5,221.9V229.9M520.5,221.9V235.9M524.5,208.9V223.5M527.5,207.5V212.9M529.5,208.9V214.9M532.5,200.0V214.3M536.5,203.0V213.9M539.5,212.9V232.3M542.5,225.9V233.5M545.5,224.9V232.9M548.5,220.9V233.5M551.5,220.9V227.5M555.5,213.9V228.3M558.5,210.9V222.3M561.5,211.9V219.9M564.5,208.9V216.9M567.5,213.9V220.9M570.5,214.9V225.5M574.5,209.9V217.9M577.5,206.0V218.5M579.5,195.0V205.0M582.5,195.0V200.0M586.5,196.0V204.0M589.5,197.0V204.0M592.5,200.0V205.0M596.5,197.4V205.0M598.5,202.0V215.9M602.5,208.0V218.9M605.5,204.0V210.0M608.5,200.0V204.0M611.5,202.6V212.5M614.5,210.5V216.5M617.5,214.5V219.3M620.5,215.9V223.3M624.5,234.9V251.3M627.5,237.3V258.9M630.5,239.9V248.9M633.5,241.9V248.9M636.5,233.9V241.3M639.5,238.5V247.9M643.5,248.5V256.9M646.5,244.9V254.9M649.5,253.9V271.2M652.5,260.8V273.2M655.5,273.8V289.8M658.5,268.8V283.8M661.5,280.8V290.8M665.5,286.8V290.8M667.5,269.2V284.8M671.5,267.9V279.3M674.5,263.9V276.9M677.5,268.5V273.9M680.5,263.9V272.9M683.5,268.5V277.9M686.5,264.5V272.9M689.5,271.9V282.5M693.5,281.9V289.9M696.5,285.9V291.9M699.5,286.9V306.9M702.5,295.9V306.9M705.5,290.9V299.9M708.5,274.9V291.9M712.5,269.9V280.5M715.5,268.9V279.9M717.5,265.9V276.9M721.5,274.9V284.9M724.5,280.9V284.9M727.5,279.3V288.5M731.5,279.9V287.3M734.5,273.3V280.5M737.5,273.9V280.5M740.5,257.0V267.9M743.5,255.0V264.9M746.5,254.6V268.5M749.5,259.0V261.9M753.5,255.0V260.9M755.5,264.9V274.9M759.5,269.9V273.9M762.5,267.9V271.9M765.5,266.0V274.4M768.5,274.0V289.9M771.5,288.9V297.9M774.5,294.9V303.9M777.5,301.5V322.9M780.5,309.9V320.9M783.5,308.9V321.5M787.5,307.9V318.3M790.5,324.3V335.4M793.5,322.9V335.8M796.5,322.3V332.8M799.5,328.2V334.2M802.5,329.8V338.8M805.5,336.8V352.8M808.5,345.8V357.8M811.5,340.8V351.8M815.5,349.4V356.8M818.5,343.8V355.4M821.5,335.8V348.8M824.5,335.8V343.4M827.5,339.4V344.8M830.5,337.8V342.8M833.5,337.8V343.8M836.5,339.8V346.8M839.5,342.8V351.8M843.5,329.8V348.8M846.5,322.9V330.2M849.5,321.9V333.4M853.5,314.9V323.9M856.5,314.9V320.3M859.5,315.5V319.9M862.5,309.9V319.9M865.5,309.3V315.9M868.5,312.9V327.8M872.5,319.9V330.8M874.5,309.9V316.9M877.5,303.9V311.9M881.5,303.9V309.3M884.5,305.9V310.5M887.5,305.9V312.9M890.5,304.9V311.3M893.5,307.9V314.9M896.5,308.9V315.9M900.5,311.9V317.9M903.5,304.9V318.9M906.5,298.5V302.9M909.5,299.9V305.9M912.5,299.3V304.5M915.5,303.9V311.9M919.5,307.3V311.9M922.5,302.9V309.3M925.5,297.9V304.9M928.5,300.5V304.9M931.5,296.5V300.9M934.5,299.9V304.5M937.5,302.9V306.5M941.5,289.3V306.9M943.5,280.9V289.3M947.5,280.5V284.9M950.5,278.9V287.9M953.5,269.4V277.9M956.5,269.0V275.9M960.5,273.9V282.9M962.5,274.9V290.5M965.5,281.3V290.5M969.5,288.5V296.5M972.5,281.9V287.9" stroke="#000" stroke-width="1" fill="none"/>
<path d="M8.15,286.2h2.7V288.6h-2.7zM14.15,270.2h2.7V271.8h-2.7zM20.15,253.5h2.7V257.5h-2.7zM26.15,242.3h2.7V245.9h-2.7zM32.15,236.9h2.7V242.3h-2.7zM39.15,231.9h2.7V233.5h-2.7zM42.15,232.9h2.7V236.9h-2.7zM48.15,232.3h2.7V234.9h-2.7zM55.15,219.9h2.7V226.9h-2.7zM57.15,219.5h2.7V241.5h-2.7zM64.15,236.8h2.7V240.8h-2.7zM67.15,232.2h2.7V236.2h-2.7zM74.15,207.5h2.7V209.9h-2.7zM83.15,187.9h2.7V210.9h-2.7zM86.15,202.3h2.7V210.3h-2.7zM92.15,205.9h2.7V228.2h-2.7zM102.15,239.8h2.7V253.4h-2.7zM114.15,197.9h2.7V199.9h-2.7zM124.15,147.9h2.7V155.9h-2.7zM133.15,120.8h2.7V124.8h-2.7zM140.15,117.0h2.7V159.5h-2.7zM145.15,131.9h2.7V143.9h-2.7zM161.15,73.9h2.7V79.9h-2.7zM168.15,56.9h2.7V62.9h-2.7zM171.15,51.9h2.7V68.9h-2.7zM177.15,65.9h2.7V71.9h-2.7zM180.15,66.9h2.7V78.9h-2.7zM190.15,64.9h2.7V75.9h-2.7zM193.15,75.9h2.7V84.9h-2.7zM196.15,82.9h2.7V89.9h-2.7zM199.15,89.9h2.7V95.9h-2.7zM205.15,67.9h2.7V69.9h-2.7zM209.15,63.9h2.7V74.9h-2.7zM211.15,70.9h2.7V79.9h-2.7zM214.15,70.9h2.7V77.9h-2.7zM221.15,42.0h2.7V55.0h-2.7zM224.15,50.0h2.7V77.9h-2.7zM230.15,73.9h2.7V100.9h-2.7zM233.15,101.9h2.7V104.9h-2.7zM240.15,86.3h2.7V111.4h-2.7zM243.15,112.6h2.7V144.0h-2.7zM248.15,110.0h2.7V148.6h-2.7zM255.15,160.9h2.7V193.9h-2.7zM262.15,171.9h2.7V209.8h-2.7zM268.15,177.9h2.7V190.9h-2.7zM278.15,161.9h2.7V164.9h-2.7zM281.15,169.9h2.7V198.9h-2.7zM283.15,167.9h2.7V199.9h-2.7zM287.15,169.3h2.7V175.3h-2.7zM293.15,171.3h2.7V181.9h-2.7zM300.15,173.9h2.7V185.9h-2.7zM302.15,172.9h2.7V185.9h-2.7zM306.15,194.9h2.7V211.8h-2.7zM312.15,198.5h2.7V214.9h-2.7zM315.15,205.9h2.7V226.9h-2.7zM318.15,236.9h2.7V254.8h-2.7zM324.15,229.9h2.7V234.9h-2.7zM343.15,182.0h2.7V191.9h-2.7zM350.15,194.9h2.7V197.3h-2.7zM353.15,201.3h2.7V207.9h-2.7zM356.15,204.9h2.7V207.9h-2.7zM359.15,206.9h2.7V215.9h-2.7zM362.15,211.9h2.7V221.9h-2.7zM366.15,213.3h2.7V230.9h-2.7zM369.15,237.3h2.7V239.3h-2.7zM375.15,227.9h2.7V239.9h-2.7zM381.15,221.9h2.7V224.5h-2.7zM387.15,225.9h2.7V244.4h-2.7zM390.15,244.0h2.7V255.9h-2.7zM393.15,250.0h2.7V255.9h-2.7zM397.15,259.9h2.7V274.9h-2.7zM400.15,274.9h2.7V299.3h-2.7zM406.15,294.9h2.7V314.8h-2.7zM412.15,282.9h2.7V289.9h-2.7zM419.15,299.3h2.7V308.4h-2.7zM443.15,252.9h2.7V265.9h-2.7zM447.15,264.9h2.7V267.3h-2.7zM450.15,261.9h2.7V278.9h-2.7zM463.15,263.9h2.7V266.9h-2.7zM466.15,265.9h2.7V273.9h-2.7zM469.15,275.9h2.7V277.9h-2.7zM475.15,273.9h2.7V278.9h-2.7zM485.15,255.4h2.7V258.8h-2.7zM494.15,230.9h2.7V239.9h-2.7zM497.15,226.9h2.7V241.9h-2.7zM504.15,217.9h2.7V229.9h-2.7zM507.15,227.9h2.7V233.9h-2.7zM513.15,218.9h2.7V226.3h-2.7zM516.15,224.9h2.7V227.9h-2.7zM519.15,226.9h2.7V228.9h-2.7zM526.15,208.9h2.7V211.9h-2.7zM528.15,209.9h2.7V213.9h-2.7zM535.15,204.0h2.7V212.9h-2.7zM538.15,214.3h2.7V231.9h-2.7zM550.15,221.9h2.7V226.3h-2.7zM560.15,214.9h2.7V218.9h-2.7zM563.15,214.3h2.7V216.3h-2.7zM566.15,214.9h2.7V219.9h-2.7zM569.15,215.9h2.7V221.5h-2.7zM581.15,197.4h2.7V199.0h-2.7zM585.15,198.0h2.7V200.0h-2.7zM588.15,199.0h2.7V201.4h-2.7zM591.15,201.0h2.7V204.6h-2.7zM595.15,200.6h2.7V202.6h-2.7zM597.15,202.6h2.7V214.5h-2.7zM607.15,200.6h2.7V203.4h-2.7zM610.15,203.4h2.7V211.9h-2.7zM613.15,211.9h2.7V215.9h-2.7zM616.15,215.3h2.7V218.5h-2.7zM619.15,216.9h2.7V222.9h-2.7zM623.15,241.9h2.7V250.9h-2.7zM629.15,240.9h2.7V248.5h-2.7zM635.15,235.3h2.7V240.9h-2.7zM638.15,243.9h2.7V247.3h-2.7zM645.15,245.9h2.7V253.9h-2.7zM648.15,254.5h2.7V265.8h-2.7zM651.15,263.8h2.7V272.8h-2.7zM657.15,269.8h2.7V282.8h-2.7zM660.15,287.2h2.7V289.8h-2.7zM670.15,268.9h2.7V278.5h-2.7zM679.15,264.9h2.7V271.9h-2.7zM682.15,269.3h2.7V274.9h-2.7zM685.15,265.3h2.7V272.5h-2.7zM688.15,274.9h2.7V281.9h-2.7zM692.15,282.9h2.7V284.9h-2.7zM695.15,287.3h2.7V288.9h-2.7zM698.15,290.9h2.7V303.9h-2.7zM701.15,296.9h2.7V304.9h-2.7zM716.15,266.9h2.7V275.9h-2.7zM720.15,276.9h2.7V284.5h-2.7zM726.15,280.5h2.7V286.9h-2.7zM733.15,275.9h2.7V279.3h-2.7zM736.15,275.9h2.7V279.9h-2.7zM742.15,257.4h2.7V264.5h-2.7zM748.15,260.0h2.7V261.3h-2.7zM752.15,258.6h2.7V260.5h-2.7zM754.15,265.9h2.7V274.5h-2.7zM761.15,268.9h2.7V270.9h-2.7zM764.15,267.0h2.7V273.6h-2.7zM767.15,275.0h2.7V286.9h-2.7zM770.15,290.9h2.7V296.9h-2.7zM776.15,302.3h2.7V316.9h-2.7zM786.15,312.9h2.7V317.5h-2.7zM792.15,323.9h2.7V334.8h-2.7zM798.15,329.8h2.7V333.4h-2.7zM801.15,334.8h2.7V337.8h-2.7zM804.15,337.8h2.7V351.8h-2.7zM810.15,341.8h2.7V350.8h-2.7zM814.15,350.8h2.7V355.8h-2.7zM823.15,339.8h2.7V342.2h-2.7zM826.15,340.8h2.7V343.4h-2.7zM832.15,338.8h2.7V342.8h-2.7zM835.15,341.4h2.7V345.8h-2.7zM838.15,343.8h2.7V350.8h-2.7zM845.15,326.8h2.7V329.4h-2.7zM855.15,317.5h2.7V319.5h-2.7zM858.15,316.9h2.7V318.9h-2.7zM864.15,310.9h2.7V314.9h-2.7zM867.15,313.9h2.7V327.2h-2.7zM880.15,306.5h2.7V308.5h-2.7zM883.15,307.9h2.7V309.3h-2.7zM886.15,308.9h2.7V311.9h-2.7zM892.15,309.9h2.7V313.9h-2.7zM895.15,311.9h2.7V314.9h-2.7zM899.15,312.9h2.7V316.9h-2.7zM905.15,299.3h2.7V301.9h-2.7zM911.15,300.5h2.7V303.9h-2.7zM914.15,304.9h2.7V310.9h-2.7zM918.15,308.5h2.7V310.5h-2.7zM927.15,302.5h2.7V303.9h-2.7zM930.15,297.9h2.7V299.3h-2.7zM933.15,301.9h2.7V303.3h-2.7zM936.15,303.9h2.7V305.9h-2.7zM955.15,270.0h2.7V274.9h-2.7zM959.15,274.9h2.7V281.9h-2.7zM961.15,275.9h2.7V289.9h-2.7zM971.15,283.9h2.7V286.5h-2.7z" fill="#000"/>
<path d="M5.5,286.3h2V294.9h-2zM11.5,274.3h2V284.9h-2zM17.5,257.4h2V267.7h-2zM23.5,246.4h2V258.4h-2zM29.5,234.8h2V247.4h-2zM36.5,233.4h2V243.0h-2zM45.5,235.4h2V241.8h-2zM51.5,228.0h2V235.8h-2zM61.5,237.3h2V243.3h-2zM71.5,217.4h2V227.3h-2zM76.5,188.4h2V207.4h-2zM80.5,197.4h2V206.4h-2zM89.5,198.4h2V205.4h-2zM95.5,238.3h2V254.9h-2zM99.5,232.3h2V237.3h-2zM105.5,252.3h2V273.3h-2zM108.5,227.3h2V236.9h-2zM111.5,211.4h2V213.4h-2zM118.5,188.4h2V205.4h-2zM121.5,161.5h2V175.4h-2zM127.5,134.4h2V155.4h-2zM130.5,111.5h2V143.0h-2zM136.5,118.3h2V137.3h-2zM142.5,132.4h2V146.4h-2zM149.5,140.4h2V147.8h-2zM152.5,129.3h2V131.3h-2zM155.5,113.3h2V118.3h-2zM159.5,78.4h2V111.9h-2zM164.5,59.4h2V86.4h-2zM174.5,72.4h2V75.4h-2zM183.5,89.8h2V93.4h-2zM187.5,77.8h2V92.4h-2zM202.5,71.0h2V87.4h-2zM218.5,47.5h2V75.0h-2zM227.5,77.4h2V87.4h-2zM236.5,93.4h2V103.4h-2zM246.5,113.1h2V130.5h-2zM252.5,161.4h2V168.8h-2zM259.5,177.8h2V193.4h-2zM265.5,183.4h2V209.3h-2zM271.5,161.0h2V189.4h-2zM274.5,160.4h2V165.4h-2zM290.5,170.4h2V174.4h-2zM297.5,175.4h2V184.4h-2zM309.5,199.0h2V218.0h-2zM321.5,229.4h2V240.3h-2zM328.5,211.8h2V234.8h-2zM331.5,207.0h2V216.4h-2zM334.5,199.4h2V207.4h-2zM337.5,192.4h2V198.4h-2zM340.5,183.1h2V190.4h-2zM347.5,189.1h2V197.4h-2zM371.5,227.8h2V240.3h-2zM378.5,231.8h2V243.9h-2zM384.5,227.8h2V230.4h-2zM403.5,294.4h2V305.3h-2zM409.5,294.4h2V314.7h-2zM416.5,286.4h2V288.4h-2zM421.5,294.4h2V307.3h-2zM425.5,283.0h2V284.8h-2zM428.5,277.0h2V279.4h-2zM431.5,261.0h2V282.4h-2zM435.5,247.1h2V257.4h-2zM438.5,250.5h2V254.4h-2zM441.5,253.4h2V265.4h-2zM453.5,276.4h2V279.4h-2zM456.5,268.4h2V271.4h-2zM459.5,263.4h2V264.4h-2zM472.5,273.4h2V276.8h-2zM478.5,276.4h2V281.4h-2zM482.5,261.4h2V274.0h-2zM488.5,257.3h2V261.7h-2zM491.5,233.4h2V256.9h-2zM500.5,226.8h2V247.4h-2zM509.5,221.4h2V236.4h-2zM523.5,210.0h2V222.4h-2zM531.5,202.1h2V213.4h-2zM541.5,227.4h2V231.8h-2zM544.5,226.8h2V231.8h-2zM547.5,222.0h2V231.8h-2zM554.5,215.4h2V227.0h-2zM557.5,212.0h2V221.0h-2zM573.5,211.4h2V216.4h-2zM576.5,207.5h2V216.4h-2zM578.5,197.1h2V204.1h-2zM601.5,209.5h2V211.4h-2zM604.5,205.5h2V208.5h-2zM626.5,239.0h2V257.4h-2zM632.5,243.4h2V247.4h-2zM642.5,249.8h2V253.4h-2zM654.5,276.3h2V285.3h-2zM664.5,288.3h2V289.9h-2zM666.5,270.9h2V282.3h-2zM673.5,268.4h2V275.4h-2zM676.5,269.8h2V272.4h-2zM704.5,292.4h2V297.4h-2zM707.5,276.4h2V289.4h-2zM711.5,271.4h2V279.4h-2zM714.5,270.4h2V278.4h-2zM723.5,282.4h2V284.0h-2zM730.5,281.0h2V286.4h-2zM739.5,258.5h2V266.4h-2zM745.5,257.5h2V267.4h-2zM758.5,271.4h2V272.8h-2zM773.5,299.4h2V302.4h-2zM779.5,311.4h2V319.8h-2zM782.5,310.4h2V320.4h-2zM789.5,325.9h2V334.3h-2zM795.5,324.0h2V331.7h-2zM807.5,348.3h2V353.3h-2zM817.5,348.3h2V354.3h-2zM820.5,341.3h2V347.3h-2zM829.5,339.9h2V341.3h-2zM842.5,331.3h2V347.7h-2zM848.5,324.4h2V327.7h-2zM852.5,316.4h2V322.4h-2zM861.5,311.4h2V318.4h-2zM871.5,321.3h2V329.3h-2zM873.5,312.4h2V313.4h-2zM876.5,309.4h2V310.4h-2zM889.5,309.0h2V310.0h-2zM902.5,306.4h2V315.4h-2zM908.5,301.4h2V304.0h-2zM921.5,305.0h2V308.4h-2zM924.5,302.4h2V303.4h-2zM940.5,291.0h2V302.4h-2zM942.5,282.4h2V285.4h-2zM946.5,282.4h2V283.4h-2zM949.5,280.4h2V286.8h-2zM952.5,271.0h2V276.8h-2zM964.5,283.0h2V286.4h-2zM968.5,290.4h2V291.4h-2z" fill="#fff" stroke="#000" stroke-width="1"/>
</g>
<g clip-path="url(#cv)">
<path d="M6,447.3h2V452.6h-2zM12,445.4h2V452.6h-2zM18,446.0h2V452.6h-2zM24,442.3h2V452.6h-2zM30,440.4h2V452.6h-2zM37,439.7h2V452.6h-2zM46,442.0h2V452.6h-2zM53,440.4h2V452.6h-2zM56,432.8h2V452.6h-2zM62,440.0h2V452.6h-2zM68,446.0h2V452.6h-2zM72,420.3h2V452.6h-2zM78,428.4h2V452.6h-2zM81,435.7h2V452.6h-2zM90,429.7h2V452.6h-2zM96,422.8h2V452.6h-2zM100,437.9h2V452.6h-2zM106,440.4h2V452.6h-2zM109,443.3h2V452.6h-2zM112,442.3h2V452.6h-2zM118,405.8h2V452.6h-2zM122,416.5h2V452.6h-2zM128,404.1h2V452.6h-2zM131,403.5h2V452.6h-2zM137,409.8h2V452.6h-2zM144,430.2h2V452.6h-2zM150,440.5h2V452.6h-2zM153,429.2h2V452.6h-2zM156,428.6h2V452.6h-2zM160,416.0h2V452.6h-2zM165,428.0h2V452.6h-2zM175,426.7h2V452.6h-2zM184,417.7h2V452.6h-2zM187,432.4h2V452.6h-2zM203,432.7h2V452.6h-2zM206,437.4h2V452.6h-2zM219,419.2h2V452.6h-2zM229,436.8h2V452.6h-2zM238,442.8h2V452.6h-2zM247,441.2h2V452.6h-2zM253,437.4h2V452.6h-2zM260,438.3h2V452.6h-2zM266,427.7h2V452.6h-2zM272,436.1h2V452.6h-2zM275,431.5h2V452.6h-2zM285,429.9h2V452.6h-2zM291,438.6h2V452.6h-2zM310,439.0h2V452.6h-2zM322,434.5h2V452.6h-2zM329,438.0h2V452.6h-2zM332,433.2h2V452.6h-2zM335,437.4h2V452.6h-2zM338,432.4h2V452.6h-2zM341,438.3h2V452.6h-2zM348,440.3h2V452.6h-2zM357,444.9h2V452.6h-2zM363,444.9h2V452.6h-2zM373,443.7h2V452.6h-2zM379,444.9h2V452.6h-2zM410,432.7h2V452.6h-2zM417,439.9h2V452.6h-2zM423,441.2h2V452.6h-2zM426,438.6h2V452.6h-2zM432,427.0h2V452.6h-2zM436,438.0h2V452.6h-2zM441,434.3h2V452.6h-2zM454,443.0h2V452.6h-2zM457,443.0h2V452.6h-2zM460,444.9h2V452.6h-2zM476,444.9h2V452.6h-2zM479,444.1h2V452.6h-2zM482,438.0h2V452.6h-2zM489,441.2h2V452.6h-2zM492,422.7h2V452.6h-2zM501,423.6h2V452.6h-2zM510,434.3h2V452.6h-2zM520,430.7h2V452.6h-2zM523,427.7h2V452.6h-2zM533,433.2h2V452.6h-2zM542,435.3h2V452.6h-2zM548,441.5h2V452.6h-2zM555,436.1h2V452.6h-2zM564,435.3h2V452.6h-2zM570,443.0h2V452.6h-2zM577,438.3h2V452.6h-2zM579,421.7h2V452.6h-2zM602,432.0h2V452.6h-2zM605,441.5h2V452.6h-2zM627,439.0h2V452.6h-2zM633,447.8h2V452.6h-2zM643,444.3h2V452.6h-2zM655,439.5h2V452.6h-2zM665,446.2h2V452.6h-2zM667,437.4h2V452.6h-2zM674,440.8h2V452.6h-2zM677,446.8h2V452.6h-2zM702,442.8h2V452.6h-2zM705,444.9h2V452.6h-2zM708,438.0h2V452.6h-2zM712,439.9h2V452.6h-2zM715,443.7h2V452.6h-2zM724,448.3h2V452.6h-2zM731,446.2h2V452.6h-2zM736,443.7h2V452.6h-2zM740,434.9h2V452.6h-2zM746,439.3h2V452.6h-2zM759,444.3h2V452.6h-2zM762,446.6h2V452.6h-2zM774,439.5h2V452.6h-2zM784,443.0h2V452.6h-2zM809,443.0h2V452.6h-2zM818,436.8h2V452.6h-2zM822,433.6h2V452.6h-2zM828,440.3h2V452.6h-2zM831,445.3h2V452.6h-2zM843,422.3h2V452.6h-2zM850,434.5h2V452.6h-2zM853,429.5h2V452.6h-2zM859,440.8h2V452.6h-2zM862,435.5h2V452.6h-2zM872,443.0h2V452.6h-2zM874,443.0h2V452.6h-2zM878,432.7h2V452.6h-2zM881,432.7h2V452.6h-2zM887,441.5h2V452.6h-2zM896,438.3h2V452.6h-2zM903,417.9h2V452.6h-2zM909,435.3h2V452.6h-2zM922,434.5h2V452.6h-2zM925,432.4h2V452.6h-2zM941,429.0h2V452.6h-2zM943,414.2h2V452.6h-2zM950,430.2h2V452.6h-2zM953,426.1h2V452.6h-2zM960,429.5h2V452.6h-2zM966,437.0h2V452.6h-2zM969,434.3h2V452.6h-2z" fill="#009800"/>
<path d="M9,450.8h2V452.6h-2zM15,444.5h2V452.6h-2zM21,442.9h2V452.6h-2zM27,442.0h2V452.6h-2zM34,445.4h2V452.6h-2zM40,436.0h2V452.6h-2zM43,427.8h2V452.6h-2zM50,439.7h2V452.6h-2zM59,439.7h2V452.6h-2zM65,442.0h2V452.6h-2zM75,430.3h2V452.6h-2zM84,430.3h2V452.6h-2zM87,432.2h2V452.6h-2zM93,432.8h2V452.6h-2zM103,444.5h2V452.6h-2zM115,423.4h2V452.6h-2zM125,412.9h2V452.6h-2zM134,398.4h2V452.6h-2zM141,414.8h2V452.6h-2zM147,429.9h2V452.6h-2zM162,429.9h2V452.6h-2zM169,432.4h2V452.6h-2zM172,421.7h2V452.6h-2zM178,429.9h2V452.6h-2zM181,428.6h2V452.6h-2zM191,432.7h2V452.6h-2zM194,439.9h2V452.6h-2zM197,441.2h2V452.6h-2zM200,438.6h2V452.6h-2zM210,434.0h2V452.6h-2zM213,440.5h2V452.6h-2zM215,437.4h2V452.6h-2zM222,434.3h2V452.6h-2zM225,428.6h2V452.6h-2zM231,429.2h2V452.6h-2zM234,439.9h2V452.6h-2zM241,441.8h2V452.6h-2zM244,428.0h2V452.6h-2zM250,438.3h2V452.6h-2zM257,430.7h2V452.6h-2zM263,439.0h2V452.6h-2zM269,441.5h2V452.6h-2zM279,441.5h2V452.6h-2zM282,434.3h2V452.6h-2zM288,443.0h2V452.6h-2zM294,436.8h2V452.6h-2zM298,441.8h2V452.6h-2zM301,439.5h2V452.6h-2zM303,445.3h2V452.6h-2zM307,436.1h2V452.6h-2zM313,445.8h2V452.6h-2zM316,441.2h2V452.6h-2zM319,432.0h2V452.6h-2zM326,439.9h2V452.6h-2zM344,436.8h2V452.6h-2zM351,441.2h2V452.6h-2zM354,429.5h2V452.6h-2zM360,444.3h2V452.6h-2zM366,440.8h2V452.6h-2zM370,431.5h2V452.6h-2zM376,446.6h2V452.6h-2zM382,442.0h2V452.6h-2zM386,446.8h2V452.6h-2zM388,446.8h2V452.6h-2zM391,438.3h2V452.6h-2zM394,444.1h2V452.6h-2zM398,437.4h2V452.6h-2zM401,420.2h2V452.6h-2zM404,441.2h2V452.6h-2zM407,438.0h2V452.6h-2zM413,437.4h2V452.6h-2zM420,436.1h2V452.6h-2zM429,439.3h2V452.6h-2zM439,435.3h2V452.6h-2zM445,439.9h2V452.6h-2zM448,439.9h2V452.6h-2zM451,440.8h2V452.6h-2zM464,439.0h2V452.6h-2zM467,441.2h2V452.6h-2zM470,441.2h2V452.6h-2zM473,444.3h2V452.6h-2zM486,434.0h2V452.6h-2zM495,438.0h2V452.6h-2zM498,426.7h2V452.6h-2zM504,430.2h2V452.6h-2zM508,438.6h2V452.6h-2zM514,435.3h2V452.6h-2zM517,436.5h2V452.6h-2zM527,436.1h2V452.6h-2zM529,438.3h2V452.6h-2zM536,438.0h2V452.6h-2zM539,431.5h2V452.6h-2zM545,443.0h2V452.6h-2zM552,445.6h2V452.6h-2zM558,440.3h2V452.6h-2zM561,441.2h2V452.6h-2zM567,444.9h2V452.6h-2zM573,439.0h2V452.6h-2zM583,441.5h2V452.6h-2zM586,437.4h2V452.6h-2zM589,437.4h2V452.6h-2zM592,439.9h2V452.6h-2zM596,436.8h2V452.6h-2zM598,435.3h2V452.6h-2zM608,443.7h2V452.6h-2zM611,439.0h2V452.6h-2zM614,440.3h2V452.6h-2zM617,444.3h2V452.6h-2zM620,443.7h2V452.6h-2zM624,421.1h2V452.6h-2zM630,444.9h2V452.6h-2zM636,444.1h2V452.6h-2zM639,444.3h2V452.6h-2zM646,446.8h2V452.6h-2zM648,437.4h2V452.6h-2zM652,444.9h2V452.6h-2zM658,447.8h2V452.6h-2zM661,442.8h2V452.6h-2zM671,445.6h2V452.6h-2zM680,445.6h2V452.6h-2zM683,445.6h2V452.6h-2zM686,445.6h2V452.6h-2zM689,444.9h2V452.6h-2zM693,446.2h2V452.6h-2zM696,444.1h2V452.6h-2zM699,437.4h2V452.6h-2zM718,444.1h2V452.6h-2zM721,444.1h2V452.6h-2zM727,446.8h2V452.6h-2zM734,441.5h2V452.6h-2zM743,441.8h2V452.6h-2zM749,441.5h2V452.6h-2zM753,442.0h2V452.6h-2zM755,434.5h2V452.6h-2zM765,441.5h2V452.6h-2zM768,423.2h2V452.6h-2zM771,438.0h2V452.6h-2zM777,423.2h2V452.6h-2zM781,436.8h2V452.6h-2zM787,445.8h2V452.6h-2zM790,441.2h2V452.6h-2zM793,444.3h2V452.6h-2zM796,443.0h2V452.6h-2zM800,446.6h2V452.6h-2zM803,446.8h2V452.6h-2zM805,438.3h2V452.6h-2zM812,442.4h2V452.6h-2zM815,438.0h2V452.6h-2zM824,442.0h2V452.6h-2zM834,443.0h2V452.6h-2zM837,444.6h2V452.6h-2zM840,444.1h2V452.6h-2zM846,429.0h2V452.6h-2zM856,436.8h2V452.6h-2zM865,445.8h2V452.6h-2zM869,428.6h2V452.6h-2zM884,439.5h2V452.6h-2zM891,434.5h2V452.6h-2zM893,429.5h2V452.6h-2zM900,434.0h2V452.6h-2zM906,436.8h2V452.6h-2zM912,439.5h2V452.6h-2zM915,431.5h2V452.6h-2zM919,440.8h2V452.6h-2zM928,443.0h2V452.6h-2zM931,431.5h2V452.6h-2zM934,438.6h2V452.6h-2zM938,444.3h2V452.6h-2zM947,438.6h2V452.6h-2zM957,432.4h2V452.6h-2zM962,434.0h2V452.6h-2zM972,445.3h2V452.6h-2z" fill="#ff2000"/>
<path d="M5.7,439.5 C6.2,439.8 7.6,441.1 8.8,441.6 C9.9,442.1 10.9,442.4 12.6,442.5 C14.2,442.6 16.8,442.5 18.8,442.3 C20.9,442.0 23.0,441.4 25.1,441.0 C27.2,440.6 29.3,440.1 31.4,439.7 C33.5,439.4 36.0,439.4 37.7,438.7 C39.4,438.1 40.5,437.0 41.5,436.0 C42.4,435.0 42.6,433.5 43.3,432.8 C44.1,432.2 44.7,432.2 45.9,431.9 C47.0,431.7 48.5,431.7 50.3,431.6 C52.0,431.4 54.4,431.1 56.5,430.9 C58.6,430.8 60.8,430.7 62.8,430.7 C64.8,430.7 67.1,431.4 68.5,430.9 C69.8,430.5 70.0,428.9 71.0,427.8 C71.9,426.7 73.0,425.2 74.1,424.4 C75.3,423.6 76.4,423.2 77.9,422.8 C79.4,422.4 81.2,422.4 82.9,422.2 C84.6,421.9 86.5,421.5 87.9,421.5 C89.4,421.5 90.2,422.5 91.7,422.2 C93.2,421.8 95.3,419.8 96.7,419.4 C98.2,419.0 98.8,420.0 100.5,419.9 C102.2,419.8 104.7,419.2 106.8,419.0 C108.9,418.8 111.5,419.1 113.1,418.6 C114.6,418.2 115.2,417.6 116.2,416.5 C117.3,415.4 118.2,413.3 119.3,412.1 C120.5,410.9 122.2,410.3 123.1,409.6 C124.1,408.9 124.1,409.2 125.0,407.9 C125.9,406.5 127.3,403.8 128.8,401.6 C130.2,399.4 132.1,396.4 133.8,394.7 C135.5,393.0 136.7,392.2 138.8,391.5 C140.9,390.9 143.8,390.8 146.4,390.9 C148.9,391.0 151.6,391.6 153.9,392.2 C156.2,392.7 158.1,393.5 160.2,394.1 C162.3,394.6 164.4,394.9 166.5,395.3 C168.6,395.7 171.1,395.7 172.7,396.6 C174.4,397.4 175.5,398.9 176.5,400.3 C177.6,401.8 178.2,403.6 179.0,405.4 C179.9,407.1 180.5,409.5 181.5,411.0 C182.6,412.5 184.0,413.3 185.3,414.2 C186.6,415.1 187.4,416.1 189.1,416.4 C190.7,416.7 193.0,416.2 195.4,416.0 C197.7,415.9 201.0,415.2 202.9,415.7 C204.8,416.1 205.0,417.8 206.7,418.5 C208.3,419.3 211.1,420.3 212.9,420.4 C214.8,420.6 216.3,419.6 218.0,419.6 C219.6,419.5 221.3,420.2 223.0,420.2 C224.7,420.2 226.5,419.0 228.0,419.4 C229.5,419.9 230.1,422.1 231.8,422.9 C233.5,423.7 236.0,424.2 238.1,424.2 C240.2,424.2 242.4,423.2 244.3,422.9 C246.3,422.7 247.8,422.9 250.0,422.7 C252.2,422.5 255.4,421.8 257.5,421.7 C259.6,421.6 261.1,421.8 262.6,422.3 C264.0,422.8 264.7,424.1 266.3,424.8 C268.0,425.6 270.1,426.4 272.6,426.7 C275.1,427.0 278.9,426.6 281.4,426.5 C283.9,426.4 285.6,425.9 287.7,426.1 C289.8,426.2 291.5,427.0 294.0,427.3 C296.5,427.7 300.0,427.8 302.8,428.0 C305.5,428.1 308.2,427.8 310.3,428.2 C312.4,428.6 312.8,430.0 315.3,430.2 C317.8,430.5 322.7,429.7 325.4,429.9 C328.1,430.0 330.0,430.8 331.7,431.1 C333.3,431.4 334.0,431.7 335.4,431.5 C336.9,431.3 337.9,430.1 340.5,429.9 C343.0,429.6 348.2,430.4 350.5,430.2 C352.8,430.1 352.2,429.2 354.3,429.0 C356.4,428.7 360.3,428.6 363.1,428.6 C365.8,428.6 368.6,428.9 370.6,429.0 C372.6,429.0 373.0,428.8 375.0,429.0 C377.0,429.1 380.4,429.4 382.5,429.9 C384.6,430.3 385.7,431.1 387.6,431.5 C389.4,431.8 392.0,432.0 393.8,432.0 C395.7,432.0 397.5,432.3 398.9,431.5 C400.2,430.7 400.5,428.3 402.0,427.3 C403.5,426.3 405.9,425.9 407.7,425.5 C409.4,425.0 411.0,424.7 412.7,424.8 C414.4,424.9 415.6,426.0 417.7,426.1 C419.8,426.2 422.7,425.7 425.3,425.5 C427.8,425.2 430.3,424.6 432.8,424.5 C435.3,424.3 438.2,424.4 440.3,424.5 C442.4,424.5 444.1,423.9 445.4,424.8 C446.6,425.7 446.2,428.9 447.9,429.9 C449.5,430.8 452.9,430.3 455.4,430.5 C457.9,430.6 460.4,430.7 462.9,430.7 C465.5,430.8 468.2,430.7 470.5,430.7 C472.8,430.8 475.2,430.5 476.8,431.1 C478.3,431.7 478.4,433.6 479.9,434.3 C481.4,434.9 484.0,434.9 485.6,434.9 C487.1,434.9 488.1,435.0 489.3,434.3 C490.6,433.5 491.6,431.8 493.1,430.5 C494.6,429.1 497.0,427.1 498.1,426.1 C499.3,425.0 499.1,424.9 500.0,424.2 C500.9,423.5 501.7,422.3 503.8,421.9 C505.9,421.6 509.4,422.4 512.6,422.3 C515.7,422.2 519.9,421.5 522.6,421.4 C525.3,421.4 526.6,421.8 528.9,421.9 C531.2,422.0 534.5,421.7 536.4,422.1 C538.3,422.4 538.7,423.5 540.2,423.9 C541.7,424.4 543.8,424.3 545.2,424.8 C546.7,425.4 547.1,426.9 549.0,427.3 C550.9,427.8 554.2,427.6 556.5,427.7 C558.8,427.9 561.3,428.3 562.8,428.2 C564.3,428.2 564.1,426.9 565.3,427.3 C566.6,427.8 568.5,430.1 570.4,430.7 C572.2,431.4 575.2,431.6 576.6,431.1 C578.1,430.6 578.3,428.7 579.1,428.0 C580.0,427.2 580.2,426.7 581.7,426.7 C583.1,426.7 585.2,427.7 587.9,428.0 C590.7,428.2 594.8,428.3 598.0,428.2 C601.1,428.1 603.4,427.4 606.8,427.3 C610.1,427.3 615.6,428.1 618.1,428.0 C620.6,427.9 620.8,427.3 621.9,426.7 C622.9,426.1 623.8,424.2 624.4,424.2 C624.9,424.2 623.6,426.2 625.0,426.7 C626.4,427.2 629.4,427.2 632.5,427.3 C635.7,427.5 640.9,427.4 643.8,427.7 C646.8,428.1 647.4,429.3 650.1,429.5 C652.8,429.7 657.2,429.1 660.2,429.0 C663.1,428.8 666.1,427.8 667.7,428.6 C669.3,429.4 668.9,432.2 669.6,433.6 C670.3,435.0 670.1,436.3 672.1,437.0 C674.1,437.7 677.7,437.6 681.5,437.8 C685.4,437.9 692.2,438.0 695.4,438.0 C698.5,438.0 699.1,437.6 700.4,437.8 C701.6,437.9 701.4,439.2 702.9,439.0 C704.4,438.8 707.1,436.8 709.2,436.5 C711.3,436.2 713.4,436.7 715.5,437.0 C717.5,437.4 719.0,438.4 721.7,438.6 C724.5,438.9 729.3,438.5 731.8,438.3 C734.3,438.1 735.3,438.0 736.8,437.4 C738.3,436.8 739.1,435.2 740.6,434.9 C742.0,434.6 744.0,435.5 745.6,435.8 C747.2,436.0 748.2,436.3 750.0,436.1 C751.8,436.0 753.8,435.2 756.3,434.9 C758.8,434.6 763.0,435.4 765.1,434.5 C767.2,433.6 767.2,430.2 768.8,429.2 C770.5,428.2 773.7,429.4 775.1,428.6 C776.6,427.8 775.5,424.8 777.6,424.2 C779.7,423.6 783.9,424.7 787.7,424.8 C791.5,424.9 796.1,424.8 800.3,424.8 C804.4,424.8 810.3,424.1 812.8,424.8 C815.3,425.6 813.9,428.5 815.3,429.2 C816.8,430.0 820.1,428.5 821.6,429.2 C823.1,430.0 822.4,432.7 824.1,433.6 C825.8,434.5 828.9,434.4 831.7,434.5 C834.4,434.6 838.5,435.4 840.5,434.5 C842.4,433.6 842.3,430.6 843.6,429.2 C844.8,427.8 846.4,426.8 848.0,426.1 C849.6,425.4 850.5,425.1 853.0,424.8 C855.5,424.6 861.1,424.5 863.1,424.5 C865.1,424.5 864.0,425.0 865.0,424.8 C866.0,424.6 866.7,423.6 868.8,423.2 C870.9,422.8 874.8,422.8 877.6,422.7 C880.3,422.5 883.3,422.2 885.1,422.3 C886.9,422.5 887.2,422.9 888.2,423.6 C889.3,424.2 890.0,425.5 891.4,426.1 C892.7,426.7 894.9,426.8 896.4,427.0 C897.9,427.2 899.1,428.0 900.2,427.3 C901.2,426.7 901.6,423.9 902.7,422.9 C903.7,422.0 904.4,421.7 906.5,421.7 C908.6,421.6 911.7,422.4 915.3,422.7 C918.8,422.9 924.0,423.2 927.8,423.2 C931.6,423.2 935.6,423.1 937.9,422.9 C940.2,422.8 940.5,423.4 941.6,422.3 C942.8,421.3 943.7,417.3 944.8,416.7 C945.8,416.0 947.0,417.9 947.9,418.5 C948.9,419.2 949.2,420.5 950.4,420.7 C951.7,420.8 953.6,419.8 955.5,419.4 C957.3,419.0 959.8,418.2 961.7,418.2 C963.6,418.1 965.1,419.2 966.8,419.2 C968.4,419.2 970.9,418.3 971.8,418.2" fill="none" stroke="#ff5040" stroke-width="1" stroke-linejoin="round" opacity="1"/>
<path d="M5.7,453.3 C6.8,453.0 9.3,452.1 12.6,451.7 C15.8,451.3 20.9,451.0 25.1,451.0 C29.3,451.1 34.7,451.6 37.7,452.1 C40.7,452.5 41.2,453.8 43.3,453.8 C45.4,453.9 48.1,452.9 50.3,452.3 C52.4,451.7 54.4,451.0 56.5,450.4 C58.6,449.8 60.7,448.7 62.8,448.5 C64.9,448.3 67.0,448.7 69.1,449.2 C71.2,449.6 73.3,451.0 75.4,451.0 C77.5,451.0 79.6,449.8 81.7,449.2 C83.8,448.5 85.8,447.7 87.9,447.3 C90.0,446.9 92.1,446.8 94.2,446.6 C96.3,446.5 98.4,446.0 100.5,446.3 C102.6,446.6 104.7,447.8 106.8,448.5 C108.9,449.2 111.0,449.8 113.1,450.4 C115.2,451.0 117.4,451.6 119.3,452.1 C121.3,452.5 123.0,452.5 125.0,453.1 C127.0,453.7 129.2,455.3 131.3,455.6 C133.4,455.9 135.5,455.5 137.6,455.0 C139.7,454.5 141.8,453.2 143.8,452.5 C145.9,451.7 148.0,451.7 150.1,450.6 C152.2,449.4 154.5,446.9 156.4,445.6 C158.3,444.2 159.8,442.8 161.4,442.4 C163.1,442.0 165.0,442.5 166.5,443.0 C167.9,443.6 168.3,445.1 170.2,445.6 C172.1,446.0 175.9,446.4 177.8,445.6 C179.6,444.7 179.9,441.4 181.5,440.5 C183.2,439.7 185.7,440.1 187.8,440.3 C189.9,440.5 192.0,441.3 194.1,441.8 C196.2,442.2 197.2,442.4 200.4,443.0 C203.5,443.7 208.8,445.0 212.9,445.6 C217.1,446.1 221.3,446.2 225.5,446.6 C229.7,446.9 234.0,447.1 238.1,447.4 C242.1,447.7 241.7,448.1 250.0,448.3 C258.3,448.5 275.1,448.6 287.7,448.6 C300.3,448.6 312.8,448.4 325.4,448.4 C337.9,448.4 354.8,448.6 363.1,448.6 C371.3,448.6 370.9,448.2 375.0,448.3 C379.1,448.4 384.4,448.6 387.6,449.3 C390.7,450.0 391.8,451.5 393.8,452.5 C395.9,453.4 398.2,454.4 400.1,455.0 C402.0,455.5 403.1,456.0 405.2,455.9 C407.2,455.8 410.2,454.8 412.7,454.4 C415.2,453.9 418.1,453.5 420.2,453.1 C422.3,452.7 423.8,452.4 425.3,451.8 C426.7,451.3 426.9,450.5 429.0,450.0 C431.1,449.4 435.1,449.4 437.8,448.7 C440.5,448.0 442.8,446.1 445.4,445.6 C447.9,445.0 450.0,445.3 452.9,445.6 C455.8,445.8 459.2,446.6 462.9,446.8 C466.7,447.0 471.7,446.9 475.5,446.8 C479.3,446.8 483.5,446.1 485.6,446.6 C487.6,447.0 486.8,448.4 488.1,449.3 C489.3,450.2 491.1,451.3 493.1,451.8 C495.1,452.4 497.8,452.8 500.0,452.8 C502.2,452.8 504.2,452.4 506.3,451.8 C508.4,451.3 510.5,450.1 512.6,449.3 C514.7,448.6 516.8,448.1 518.8,447.4 C520.9,446.8 523.0,446.1 525.1,445.6 C527.2,445.0 529.3,444.8 531.4,444.3 C533.5,443.8 535.6,443.1 537.7,442.8 C539.8,442.5 541.9,442.0 544.0,442.4 C546.1,442.9 548.2,445.0 550.3,445.6 C552.3,446.1 554.0,445.6 556.5,445.6 C559.0,445.5 563.0,445.2 565.3,445.3 C567.6,445.4 568.3,445.9 570.4,446.2 C572.4,446.4 576.0,446.3 577.9,446.8 C579.8,447.3 580.0,448.8 581.7,449.3 C583.3,449.9 584.8,450.1 587.9,450.0 C591.1,449.9 596.3,448.8 600.5,448.7 C604.7,448.6 609.0,449.2 613.1,449.3 C617.1,449.4 621.8,449.1 625.0,449.3 C628.2,449.5 630.0,450.1 632.5,450.6 C635.1,451.1 637.6,451.7 640.1,452.5 C642.6,453.2 644.9,454.5 647.6,455.0 C650.3,455.5 653.3,455.5 656.4,455.6 C659.5,455.8 664.3,456.3 666.5,455.9 C668.7,455.4 668.7,454.0 669.6,453.1 C670.5,452.2 670.1,451.1 672.1,450.6 C674.1,450.1 676.8,450.1 681.5,450.0 C686.2,449.8 693.0,449.6 700.4,449.6 C707.7,449.6 717.2,449.6 725.5,450.0 C733.8,450.3 743.8,451.5 750.0,451.8 C756.2,452.2 759.4,451.6 762.6,451.8 C765.7,452.1 765.7,453.2 768.8,453.3 C772.0,453.5 777.2,452.5 781.4,452.5 C785.6,452.4 790.8,452.8 794.0,453.1 C797.1,453.4 798.6,454.0 800.3,454.4 C801.9,454.7 801.9,455.4 804.0,455.4 C806.1,455.3 810.7,454.6 812.8,454.1 C814.9,453.6 814.5,453.2 816.6,452.5 C818.7,451.8 821.8,450.3 825.4,450.0 C828.9,449.6 834.9,450.1 837.9,450.6 C841.0,451.1 841.5,452.5 843.6,452.8 C845.7,453.2 847.3,452.6 850.5,452.5 C853.7,452.3 860.6,451.9 863.1,451.8 C865.5,451.7 862.6,451.9 865.0,451.8 C867.4,451.7 873.4,451.7 877.6,451.2 C881.8,450.7 885.9,449.1 890.1,448.7 C894.3,448.3 898.5,448.8 902.7,448.7 C906.9,448.6 911.1,448.1 915.3,448.1 C919.4,448.0 923.6,448.1 927.8,448.3 C932.0,448.5 936.2,449.3 940.4,449.3 C944.6,449.4 948.8,449.0 952.9,448.7 C957.1,448.4 962.2,447.5 965.5,447.4 C968.9,447.3 971.8,448.0 973.0,448.1" fill="none" stroke="#ff5040" stroke-width="1" stroke-linejoin="round" opacity="1"/>
</g>
<g clip-path="url(#cd)">
<path d="M6.5,494.3V496.4M9.5,494.3V494.8M13.5,494.3V493.8M16.5,494.3V493.8M19.5,494.3V492.9M22.5,494.3V492.5M25.5,494.3V492.2M28.5,494.3V492.0M31.5,494.3V491.8M35.5,494.3V491.9M38.5,494.3V492.1M41.5,494.3V492.2M44.5,494.3V492.4M47.5,494.3V492.5M50.5,494.3V492.7M53.5,494.3V492.8M56.5,494.3V493.2M60.5,494.3V493.8M63.5,494.3V494.8M66.5,494.3V494.8M69.5,494.3V495.8M72.5,494.3V494.8M75.5,494.3V493.8M78.5,494.3V493.0M82.5,494.3V493.1M85.5,494.3V493.2M88.5,494.3V493.8M91.5,494.3V493.8M94.5,494.3V494.8M97.5,494.3V496.3M100.5,494.3V497.4M103.5,494.3V498.4M107.5,494.3V498.4M110.5,494.3V497.1M113.5,494.3V496.1M116.5,494.3V494.8M119.5,494.3V493.8M122.5,494.3V491.4M125.5,494.3V489.9M129.5,494.3V488.5M132.5,494.3V487.5M135.5,494.3V487.2M138.5,494.3V487.9M141.5,494.3V489.6M144.5,494.3V491.0M147.5,494.3V492.3M151.5,494.3V492.8M154.5,494.3V493.0M157.5,494.3V492.4M160.5,494.3V491.8M163.5,494.3V491.0M166.5,494.3V490.8M169.5,494.3V490.8M172.5,494.3V491.1M176.5,494.3V492.2M179.5,494.3V493.0M182.5,494.3V493.8M185.5,494.3V494.8M188.5,494.3V495.4M191.5,494.3V496.4M194.5,494.3V497.4M198.5,494.3V498.0M201.5,494.3V498.1M204.5,494.3V497.6M207.5,494.3V497.3M210.5,494.3V497.4M213.5,494.3V497.6M216.5,494.3V497.2M219.5,494.3V495.8M223.5,494.3V495.6M226.5,494.3V496.7M229.5,494.3V497.8M232.5,494.3V498.6M235.5,494.3V499.1M238.5,494.3V499.5M241.5,494.3V499.4M245.5,494.3V499.5M248.5,494.3V499.9M251.5,494.3V500.3M254.5,494.3V501.1M257.5,494.3V501.8M260.5,494.3V503.0M263.5,494.3V503.5M267.5,494.3V503.2M270.5,494.3V502.3M273.5,494.3V500.0M276.5,494.3V498.2M279.5,494.3V497.7M282.5,494.3V496.9M285.5,494.3V494.8M288.5,494.3V494.8M292.5,494.3V493.8M295.5,494.3V493.8M298.5,494.3V493.3M301.5,494.3V493.8M304.5,494.3V493.8M307.5,494.3V493.8M310.5,494.3V494.8M314.5,494.3V494.8M317.5,494.3V496.2M320.5,494.3V496.8M323.5,494.3V496.3M326.5,494.3V494.8M329.5,494.3V493.8M332.5,494.3V493.2M335.5,494.3V492.2M339.5,494.3V491.3M342.5,494.3V490.5M345.5,494.3V489.5M348.5,494.3V489.9M351.5,494.3V490.6M354.5,494.3V491.7M357.5,494.3V492.6M361.5,494.3V493.8M364.5,494.3V493.8M367.5,494.3V493.8M370.5,494.3V494.8M373.5,494.3V494.8M376.5,494.3V494.8M379.5,494.3V494.8M382.5,494.3V493.8M386.5,494.3V493.8M389.5,494.3V494.8M392.5,494.3V495.3M395.5,494.3V496.0M398.5,494.3V496.9M401.5,494.3V498.1M404.5,494.3V498.7M408.5,494.3V499.0M411.5,494.3V498.2M414.5,494.3V496.9M417.5,494.3V496.5M420.5,494.3V496.4M423.5,494.3V494.8M426.5,494.3V493.8M430.5,494.3V492.2M433.5,494.3V491.4M436.5,494.3V490.5M439.5,494.3V489.8M442.5,494.3V489.8M445.5,494.3V490.5M448.5,494.3V490.8M451.5,494.3V491.3M455.5,494.3V491.7M458.5,494.3V492.0M461.5,494.3V492.1M464.5,494.3V492.0M467.5,494.3V492.2M470.5,494.3V493.2M473.5,494.3V493.8M477.5,494.3V493.8M480.5,494.3V493.8M483.5,494.3V493.1M486.5,494.3V492.4M489.5,494.3V491.5M492.5,494.3V491.3M495.5,494.3V491.1M498.5,494.3V491.2M502.5,494.3V491.1M505.5,494.3V491.3M508.5,494.3V491.3M511.5,494.3V491.3M514.5,494.3V491.7M517.5,494.3V491.9M520.5,494.3V491.9M524.5,494.3V491.7M527.5,494.3V491.6M530.5,494.3V491.8M533.5,494.3V492.0M536.5,494.3V492.8M539.5,494.3V493.1M542.5,494.3V493.8M546.5,494.3V494.8M549.5,494.3V494.8M552.5,494.3V494.8M555.5,494.3V494.8M558.5,494.3V494.8M561.5,494.3V494.8M564.5,494.3V494.8M567.5,494.3V494.8M571.5,494.3V494.8M574.5,494.3V494.8M577.5,494.3V494.8M580.5,494.3V493.8M583.5,494.3V493.8M586.5,494.3V493.8M589.5,494.3V493.8M593.5,494.3V493.8M596.5,494.3V494.8M599.5,494.3V494.8M602.5,494.3V494.8M605.5,494.3V494.8M608.5,494.3V494.8M611.5,494.3V494.8M614.5,494.3V494.8M618.5,494.3V495.4M621.5,494.3V496.2M624.5,494.3V497.4M627.5,494.3V497.8M630.5,494.3V497.6M633.5,494.3V497.5M636.5,494.3V497.2M640.5,494.3V497.0M643.5,494.3V496.9M646.5,494.3V497.0M649.5,494.3V497.2M652.5,494.3V497.4M655.5,494.3V497.8M658.5,494.3V498.0M662.5,494.3V497.8M665.5,494.3V497.1M668.5,494.3V496.2M671.5,494.3V494.8M674.5,494.3V493.8M677.5,494.3V493.8M680.5,494.3V493.8M683.5,494.3V493.8M687.5,494.3V493.8M690.5,494.3V493.8M693.5,494.3V493.8M696.5,494.3V493.8M699.5,494.3V494.8M702.5,494.3V494.8M705.5,494.3V494.8M709.5,494.3V493.8M712.5,494.3V492.8M715.5,494.3V492.5M718.5,494.3V492.7M721.5,494.3V492.8M724.5,494.3V493.2M727.5,494.3V493.8M730.5,494.3V493.1M734.5,494.3V492.1M737.5,494.3V491.3M740.5,494.3V491.1M743.5,494.3V491.0M746.5,494.3V491.0M749.5,494.3V491.0M752.5,494.3V491.6M756.5,494.3V492.4M759.5,494.3V493.0M762.5,494.3V493.8M765.5,494.3V493.8M768.5,494.3V494.8M771.5,494.3V495.9M774.5,494.3V496.9M778.5,494.3V497.5M781.5,494.3V498.1M784.5,494.3V497.9M787.5,494.3V497.7M790.5,494.3V497.5M793.5,494.3V497.2M796.5,494.3V497.0M799.5,494.3V497.0M803.5,494.3V497.0M806.5,494.3V496.9M809.5,494.3V496.8M812.5,494.3V496.6M815.5,494.3V496.2M818.5,494.3V495.7M821.5,494.3V494.8M825.5,494.3V494.8M828.5,494.3V493.8M831.5,494.3V493.1M834.5,494.3V493.1M837.5,494.3V493.0M840.5,494.3V492.7M843.5,494.3V491.9M846.5,494.3V491.2M850.5,494.3V490.6M853.5,494.3V490.2M856.5,494.3V490.3M859.5,494.3V490.4M862.5,494.3V490.5M865.5,494.3V490.9M868.5,494.3V491.6M872.5,494.3V491.8M875.5,494.3V491.7M878.5,494.3V491.9M881.5,494.3V492.3M884.5,494.3V492.6M887.5,494.3V492.8M890.5,494.3V492.8M894.5,494.3V492.9M897.5,494.3V493.1M900.5,494.3V493.8M903.5,494.3V493.8M906.5,494.3V493.8M909.5,494.3V493.8M912.5,494.3V493.8M915.5,494.3V493.8M919.5,494.3V494.8M922.5,494.3V494.8M925.5,494.3V494.8M928.5,494.3V494.8M931.5,494.3V493.8M934.5,494.3V493.8M937.5,494.3V493.8M941.5,494.3V493.8M944.5,494.3V492.8M947.5,494.3V492.6M950.5,494.3V492.3M953.5,494.3V492.4M956.5,494.3V492.5M959.5,494.3V492.8M962.5,494.3V493.2M966.5,494.3V493.8M969.5,494.3V494.8M972.5,494.3V494.8" stroke="#000" stroke-width="1" fill="none"/>
<path d="M5.8,490.4 C7.1,490.6 10.6,491.6 13.5,491.5 C16.4,491.5 20.0,490.7 23.2,490.0 C26.4,489.2 29.3,488.0 32.9,487.1 C36.4,486.2 40.6,485.2 44.4,484.6 C48.3,483.9 52.2,483.4 56.0,483.2 C59.9,483.1 64.1,483.8 67.6,483.8 C71.2,483.8 74.1,483.5 77.3,483.2 C80.5,483.0 84.1,482.3 87.0,482.3 C89.9,482.3 92.1,482.6 94.7,483.2 C97.3,483.9 99.8,485.3 102.4,486.1 C105.0,487.0 107.9,488.1 110.1,488.4 C112.4,488.8 113.7,488.9 115.9,488.4 C118.2,488.0 121.1,486.9 123.7,485.7 C126.2,484.5 128.8,482.6 131.4,481.3 C134.0,480.0 136.6,478.9 139.1,478.0 C141.7,477.1 144.3,476.6 146.9,476.1 C149.4,475.6 152.0,475.5 154.6,474.9 C157.2,474.3 159.7,473.4 162.3,472.6 C164.9,471.8 167.4,470.9 170.0,470.3 C172.7,469.6 175.3,468.8 178.0,468.6 C180.7,468.4 182.9,468.5 186.0,469.0 C189.1,469.5 193.4,470.7 196.4,471.6 C199.4,472.5 201.2,473.3 204.1,474.1 C207.0,474.9 210.5,475.8 213.8,476.5 C217.0,477.2 220.5,477.8 223.4,478.4 C226.3,479.0 228.6,479.1 231.2,479.9 C233.7,480.7 236.3,481.9 238.9,483.2 C241.5,484.6 244.0,486.3 246.6,488.1 C249.2,489.8 252.1,492.1 254.3,493.9 C256.6,495.6 258.2,497.2 260.1,498.7 C262.1,500.1 264.0,501.4 265.9,502.5 C267.9,503.7 269.8,504.6 271.7,505.4 C273.7,506.2 275.3,506.9 277.5,507.4 C279.8,507.9 282.7,508.3 285.3,508.5 C287.8,508.7 290.4,508.6 293.0,508.5 C295.6,508.4 298.1,508.1 300.7,508.0 C303.3,507.9 305.9,507.7 308.5,508.0 C311.0,508.2 313.6,508.8 316.2,509.3 C318.8,509.9 321.7,510.8 323.9,511.2 C326.2,511.7 327.8,512.0 329.7,511.8 C331.6,511.7 333.3,511.0 335.5,510.3 C337.8,509.5 341.7,507.9 343.2,507.4 C344.8,506.9 343.4,508.0 345.0,507.4 C346.6,506.8 349.8,504.8 352.7,503.9 C355.6,503.0 359.2,502.1 362.4,502.0 C365.6,501.8 368.5,502.8 372.1,503.1 C375.6,503.4 380.1,503.7 383.6,503.9 C387.2,504.1 390.4,504.1 393.3,504.5 C396.2,504.9 398.5,505.6 401.0,506.4 C403.6,507.2 406.2,508.4 408.8,509.3 C411.3,510.2 413.9,511.1 416.5,511.6 C419.1,512.1 422.0,512.3 424.2,512.2 C426.5,512.1 427.8,511.7 430.0,510.9 C432.3,510.0 435.2,508.4 437.8,507.4 C440.3,506.3 442.9,505.3 445.5,504.5 C448.1,503.7 450.6,503.1 453.2,502.5 C455.8,502.0 458.0,501.6 460.9,501.2 C463.8,500.8 467.4,500.4 470.6,500.0 C473.8,499.7 477.0,499.6 480.3,499.3 C483.5,498.9 487.0,498.6 489.9,497.7 C492.8,496.9 495.1,495.3 497.7,494.2 C500.2,493.2 502.8,492.3 505.4,491.5 C508.0,490.8 510.5,490.2 513.1,489.6 C515.7,489.0 518.3,488.6 520.8,488.1 C523.4,487.5 526.0,487.0 528.6,486.5 C531.2,486.0 534.4,485.3 536.3,485.2 C538.2,485.0 537.8,485.4 540.0,485.7 C542.2,486.1 546.4,486.7 549.7,487.1 C552.9,487.5 556.1,487.7 559.3,488.1 C562.5,488.4 565.8,489.0 569.0,489.0 C572.2,489.1 575.4,488.7 578.6,488.4 C581.9,488.2 585.1,487.7 588.3,487.7 C591.5,487.6 594.8,487.8 598.0,488.1 C601.2,488.3 604.4,488.6 607.6,489.0 C610.9,489.4 614.1,489.7 617.3,490.4 C620.5,491.0 623.7,491.9 627.0,492.9 C630.2,493.9 633.4,495.1 636.6,496.2 C639.8,497.2 643.1,498.3 646.3,499.3 C649.5,500.2 653.0,501.1 655.9,502.0 C658.8,502.8 661.1,503.8 663.7,504.5 C666.2,505.1 668.8,505.7 671.4,505.8 C674.0,505.9 676.6,505.3 679.1,505.1 C681.7,504.8 684.3,504.6 686.9,504.5 C689.4,504.4 692.0,504.4 694.6,504.5 C697.2,504.6 699.7,505.1 702.3,505.1 C704.9,505.1 707.5,504.9 710.0,504.5 C712.6,504.1 715.2,503.0 717.8,502.5 C720.4,502.1 722.9,502.0 725.5,501.6 C728.1,501.2 731.7,500.2 733.2,500.2 C734.8,500.2 733.4,501.8 735.0,501.6 C736.6,501.3 740.2,499.6 742.7,498.7 C745.3,497.8 747.9,496.8 750.5,496.2 C753.0,495.5 755.6,495.0 758.2,494.8 C760.8,494.6 763.3,494.7 765.9,494.8 C768.5,495.0 771.1,495.2 773.6,495.8 C776.2,496.3 778.8,497.3 781.4,498.1 C784.0,498.9 786.5,499.8 789.1,500.6 C791.7,501.5 794.3,502.4 796.8,503.1 C799.4,503.9 802.0,504.4 804.6,505.1 C807.1,505.7 809.7,506.5 812.3,507.0 C814.9,507.5 817.4,507.8 820.0,508.0 C822.6,508.1 825.2,507.9 827.8,507.8 C830.3,507.6 832.9,507.3 835.5,507.0 C838.1,506.7 840.6,506.4 843.2,505.8 C845.8,505.3 848.4,504.4 850.9,503.5 C853.5,502.6 856.1,501.4 858.7,500.6 C861.2,499.8 863.8,499.3 866.4,498.7 C869.0,498.0 871.6,497.5 874.1,496.7 C876.7,496.0 879.6,494.8 881.9,494.2 C884.1,493.6 885.3,493.4 887.5,493.2 C889.7,493.0 892.5,492.9 895.0,492.8 C897.5,492.7 900.0,492.7 902.5,492.5 C905.0,492.3 907.3,491.9 910.0,491.7 C912.7,491.5 915.9,491.5 918.9,491.4 C921.9,491.3 924.6,491.3 927.9,491.3 C931.1,491.3 935.6,491.5 938.4,491.3 C941.1,491.1 942.4,490.6 944.4,490.2 C946.4,489.8 948.4,489.6 950.4,489.2 C952.4,488.8 954.4,488.2 956.4,488.0 C958.4,487.8 960.4,487.8 962.4,487.7 C964.4,487.6 966.9,487.6 968.4,487.7 C969.9,487.8 970.9,487.9 971.4,488.0" fill="none" stroke="#5050ff" stroke-width="1" stroke-linejoin="round" opacity="1"/>
<path d="M5.8,492.9 C7.1,492.6 10.6,491.8 13.5,491.0 C16.4,490.1 20.0,489.1 23.2,488.1 C26.4,487.0 29.3,485.5 32.9,484.6 C36.4,483.7 40.6,483.1 44.4,482.6 C48.3,482.2 53.1,481.7 56.0,481.9 C58.9,482.1 59.6,483.3 61.8,483.8 C64.1,484.3 67.0,485.5 69.6,485.2 C72.1,484.8 74.7,482.5 77.3,481.9 C79.9,481.2 82.4,481.2 85.0,481.3 C87.6,481.4 90.5,481.3 92.8,482.3 C95.0,483.2 96.6,485.6 98.6,487.1 C100.5,488.5 102.7,490.1 104.3,491.0 C106.0,491.8 106.6,492.1 108.2,491.9 C109.8,491.8 112.1,491.0 114.0,490.0 C115.9,489.0 117.9,487.7 119.8,486.1 C121.7,484.5 123.7,482.3 125.6,480.3 C127.5,478.4 129.5,476.0 131.4,474.5 C133.3,473.1 135.3,471.9 137.2,471.6 C139.1,471.4 141.1,472.6 143.0,473.0 C144.9,473.4 146.9,474.0 148.8,474.1 C150.7,474.2 152.8,474.1 154.6,473.6 C156.4,473.1 158.0,471.9 159.7,471.0 C161.4,470.1 162.9,469.0 165.0,468.2 C167.1,467.4 169.5,466.4 172.0,466.3 C174.5,466.2 177.2,466.8 180.0,467.5 C182.8,468.2 186.2,469.6 188.6,470.7 C191.0,471.8 192.5,473.1 194.4,474.1 C196.4,475.2 198.0,476.2 200.2,476.8 C202.5,477.5 205.4,477.4 208.0,478.0 C210.5,478.6 213.4,480.2 215.7,480.3 C218.0,480.5 219.6,478.5 221.5,478.8 C223.4,479.0 225.4,480.8 227.3,481.9 C229.2,482.9 231.2,484.1 233.1,485.2 C235.0,486.2 237.0,487.3 238.9,488.4 C240.8,489.6 242.8,490.5 244.7,491.9 C246.6,493.3 248.6,495.0 250.5,496.7 C252.4,498.5 254.3,500.5 256.3,502.5 C258.2,504.6 260.5,507.8 262.1,509.3 C263.7,510.8 264.7,511.0 265.9,511.6 C267.2,512.2 268.2,512.9 269.8,512.8 C271.4,512.7 273.7,511.1 275.6,510.9 C277.5,510.6 279.5,511.6 281.4,511.2 C283.3,510.9 285.3,509.4 287.2,508.9 C289.1,508.4 291.1,508.7 293.0,508.3 C294.9,508.0 296.9,507.2 298.8,507.0 C300.7,506.8 302.7,506.8 304.6,507.0 C306.5,507.2 308.8,508.0 310.4,508.3 C312.0,508.7 312.8,508.6 314.3,509.3 C315.7,510.0 317.5,512.1 319.1,512.8 C320.7,513.4 322.1,513.4 323.9,513.2 C325.7,513.0 327.8,512.4 329.7,511.6 C331.6,510.8 333.6,509.5 335.5,508.3 C337.4,507.2 339.7,505.4 341.3,504.5 C342.9,503.5 343.4,503.2 345.0,502.5 C346.6,501.9 348.5,500.8 350.8,500.6 C353.1,500.4 356.0,501.0 358.5,501.2 C361.1,501.4 363.7,501.5 366.3,502.0 C368.8,502.4 371.1,503.6 374.0,503.9 C376.9,504.2 380.7,503.3 383.6,503.5 C386.5,503.7 389.1,504.4 391.4,505.1 C393.6,505.7 395.2,506.3 397.2,507.4 C399.1,508.4 401.0,510.1 403.0,511.2 C404.9,512.4 406.8,513.8 408.8,514.1 C410.7,514.5 412.6,513.6 414.6,513.6 C416.5,513.6 418.4,514.5 420.4,514.1 C422.3,513.8 424.2,512.8 426.2,511.6 C428.1,510.5 430.0,508.8 432.0,507.4 C433.9,506.0 436.1,504.2 437.8,503.1 C439.4,502.1 439.7,501.7 441.6,501.2 C443.6,500.7 446.4,500.4 449.3,500.0 C452.2,499.7 456.1,499.6 459.0,499.3 C461.9,498.9 464.5,498.1 466.7,498.1 C469.0,498.1 470.3,499.2 472.5,499.3 C474.8,499.4 477.7,499.3 480.3,498.7 C482.8,498.1 485.4,496.9 488.0,495.8 C490.6,494.7 493.1,493.0 495.7,491.9 C498.3,490.8 500.9,489.8 503.5,489.0 C506.0,488.2 508.6,487.6 511.2,487.1 C513.8,486.6 516.3,486.6 518.9,486.1 C521.5,485.6 524.1,484.7 526.6,484.2 C529.2,483.7 532.1,483.2 534.4,483.2 C536.6,483.3 537.9,483.8 540.2,484.6 C542.4,485.3 544.9,487.0 547.7,487.7 C550.6,488.3 554.2,488.2 557.4,488.4 C560.6,488.7 564.2,488.8 567.1,489.0 C570.0,489.2 572.2,489.8 574.8,489.6 C577.4,489.4 579.6,488.0 582.5,487.7 C585.4,487.3 589.0,487.4 592.2,487.7 C595.4,487.9 598.6,488.6 601.8,489.0 C605.1,489.4 608.6,489.5 611.5,490.0 C614.4,490.5 617.0,491.0 619.2,491.9 C621.5,492.9 622.8,494.8 625.0,495.8 C627.3,496.8 629.9,497.3 632.8,498.1 C635.7,498.9 639.2,499.6 642.4,500.6 C645.6,501.6 649.2,502.8 652.1,503.9 C655.0,505.0 657.9,506.3 659.8,507.0 C661.7,507.6 662.1,507.8 663.7,507.8 C665.3,507.8 667.5,507.4 669.5,507.0 C671.4,506.5 673.0,505.6 675.3,505.1 C677.5,504.5 680.4,504.1 683.0,503.9 C685.6,503.7 688.5,503.9 690.7,503.9 C693.0,503.9 694.6,503.6 696.5,503.9 C698.5,504.2 700.4,505.7 702.3,505.8 C704.3,505.9 706.2,505.2 708.1,504.5 C710.0,503.8 712.0,502.2 713.9,501.6 C715.8,500.9 717.5,500.8 719.7,500.6 C722.0,500.5 725.2,500.9 727.4,500.6 C729.7,500.3 732.0,499.0 733.2,498.7 C734.5,498.4 733.4,499.2 735.0,498.7 C736.6,498.1 740.2,496.4 742.7,495.4 C745.3,494.4 747.9,493.2 750.5,492.9 C753.0,492.6 755.6,493.2 758.2,493.5 C760.8,493.7 763.3,493.5 765.9,494.2 C768.5,495.0 771.1,496.8 773.6,498.1 C776.2,499.4 778.8,501.0 781.4,502.0 C784.0,502.9 786.5,503.3 789.1,503.9 C791.7,504.5 794.3,505.2 796.8,505.8 C799.4,506.5 802.0,507.2 804.6,507.8 C807.1,508.3 810.0,509.1 812.3,509.3 C814.5,509.6 816.2,509.5 818.1,509.3 C820.0,509.1 822.0,508.8 823.9,508.3 C825.8,507.9 827.8,506.8 829.7,506.4 C831.6,506.0 833.6,506.2 835.5,505.8 C837.4,505.5 839.3,505.2 841.3,504.5 C843.2,503.8 845.1,502.5 847.1,501.6 C849.0,500.6 850.9,499.5 852.9,498.7 C854.8,497.9 856.7,497.3 858.7,496.7 C860.6,496.2 862.5,495.6 864.5,495.4 C866.4,495.2 868.3,495.7 870.3,495.4 C872.2,495.1 874.1,494.0 876.1,493.5 C878.0,492.9 880.0,492.6 881.9,492.3 C883.8,492.0 885.3,491.9 887.5,491.7 C889.7,491.5 892.5,491.4 895.0,491.4 C897.5,491.4 900.0,491.8 902.5,491.7 C905.0,491.6 907.3,491.1 910.0,491.0 C912.7,490.9 915.9,491.3 918.9,491.4 C921.9,491.5 924.6,491.5 927.9,491.4 C931.1,491.3 935.6,491.4 938.4,491.0 C941.1,490.6 942.4,489.3 944.4,488.7 C946.4,488.1 948.4,487.6 950.4,487.2 C952.4,486.8 954.4,486.3 956.4,486.2 C958.4,486.1 960.4,486.2 962.4,486.5 C964.4,486.8 966.9,487.4 968.4,487.7 C969.9,488.0 970.9,488.2 971.4,488.3" fill="none" stroke="#ff4040" stroke-width="1" stroke-linejoin="round" opacity="1"/>
</g>
<g clip-path="url(#cr)">
<path d="M5.8,530.2 C6.3,530.9 7.6,532.9 8.7,534.1 C9.8,535.3 11.1,536.6 12.6,537.4 C14.0,538.1 15.9,538.5 17.4,538.3 C18.8,538.2 20.0,537.3 21.3,536.4 C22.5,535.5 23.8,533.7 25.1,532.9 C26.4,532.1 27.5,532.0 29.0,531.6 C30.4,531.1 32.2,530.6 33.8,530.2 C35.4,529.8 36.6,529.3 38.6,529.0 C40.7,528.8 44.0,528.5 46.4,528.7 C48.8,528.8 51.2,529.5 53.1,529.8 C55.1,530.1 55.9,530.5 58.0,530.6 C60.1,530.7 62.5,530.3 65.7,530.2 C68.9,530.1 74.4,530.1 77.3,529.8 C80.2,529.6 81.3,528.7 83.1,528.7 C84.9,528.6 86.5,529.5 87.9,529.6 C89.4,529.8 90.3,529.9 91.8,529.6 C93.2,529.4 89.4,528.8 96.6,528.3 C103.9,527.8 121.1,526.7 135.3,526.7 C149.4,526.7 172.9,527.8 181.6,528.3 C190.3,528.8 185.5,529.4 187.4,529.6 C189.4,529.9 192.0,529.5 193.2,529.6 C194.5,529.7 192.9,530.2 195.0,530.2 C197.1,530.2 203.1,529.5 205.6,529.6 C208.2,529.8 209.0,530.4 210.5,531.0 C211.9,531.5 212.7,532.4 214.3,532.9 C215.9,533.4 218.2,533.7 220.1,534.1 C222.1,534.5 224.1,535.4 225.9,535.4 C227.7,535.4 229.1,534.5 230.7,534.1 C232.4,533.7 233.8,533.2 235.6,532.9 C237.4,532.6 239.4,532.4 241.4,532.1 C243.3,531.9 245.2,531.5 247.2,531.6 C249.1,531.6 251.0,532.3 253.0,532.5 C254.9,532.8 257.2,532.6 258.8,532.9 C260.4,533.2 261.5,533.6 262.6,534.5 C263.8,535.4 264.4,536.7 265.5,538.3 C266.7,539.9 267.9,542.6 269.4,544.1 C270.8,545.7 272.5,546.6 274.2,547.6 C276.0,548.6 277.8,549.1 280.0,549.9 C282.3,550.7 285.2,551.8 287.8,552.2 C290.3,552.7 292.9,552.9 295.5,552.8 C298.1,552.8 300.6,551.7 303.2,551.9 C305.8,552.0 308.4,553.5 310.9,553.8 C313.5,554.0 316.1,553.5 318.7,553.4 C321.2,553.3 324.1,553.6 326.4,553.4 C328.7,553.2 330.3,552.7 332.2,552.2 C334.1,551.8 336.1,551.3 338.0,550.9 C339.9,550.4 341.9,550.0 343.8,549.5 C345.7,549.0 347.3,548.3 349.6,548.0 C351.8,547.7 354.7,547.5 357.3,547.6 C359.9,547.7 362.5,548.0 365.0,548.4 C367.6,548.7 370.2,549.3 372.8,549.5 C375.4,549.8 377.9,549.6 380.5,549.9 C383.1,550.2 386.7,551.2 388.2,551.5 C389.8,551.7 389.1,551.3 390.0,551.5 C390.9,551.6 392.6,551.9 393.9,552.2 C395.2,552.6 396.6,553.8 397.7,553.8 C398.9,553.8 399.3,552.4 400.6,552.2 C401.9,552.1 403.7,552.6 405.5,552.8 C407.2,553.1 409.0,553.5 411.3,553.8 C413.5,554.1 416.7,554.6 419.0,554.7 C421.2,554.9 423.0,554.7 424.8,554.7 C426.6,554.7 428.2,555.4 429.6,554.7 C431.1,554.1 432.0,552.0 433.5,550.9 C434.9,549.8 436.7,549.0 438.3,548.0 C439.9,547.0 441.5,545.7 443.1,545.1 C444.8,544.5 446.2,544.3 448.0,544.5 C449.7,544.7 451.8,545.7 453.8,546.1 C455.7,546.4 457.6,546.4 459.6,546.4 C461.5,546.5 463.4,546.0 465.4,546.4 C467.3,546.9 469.2,548.5 471.2,549.0 C473.1,549.4 475.0,549.0 477.0,549.0 C478.9,549.0 480.8,549.1 482.8,549.0 C484.7,548.8 486.9,549.0 488.6,548.0 C490.2,547.0 490.8,544.4 492.4,543.2 C494.0,541.9 496.3,541.2 498.2,540.3 C500.1,539.3 502.1,538.3 504.0,537.4 C505.9,536.5 507.6,535.3 509.8,534.8 C512.1,534.4 515.0,534.5 517.5,534.5 C520.1,534.5 522.7,534.8 525.3,534.8 C527.8,534.9 530.4,534.8 533.0,534.8 C535.6,534.8 538.5,535.1 540.7,534.8 C543.0,534.6 544.3,533.7 546.5,533.5 C548.8,533.3 552.0,533.3 554.3,533.5 C556.5,533.7 558.1,534.6 560.0,534.8 C562.0,535.1 563.9,534.5 565.8,534.8 C567.8,535.2 569.7,536.2 571.6,536.8 C573.6,537.4 575.5,538.0 577.4,538.3 C579.4,538.6 582.0,538.7 583.2,538.7 C584.5,538.7 583.1,538.4 585.0,538.3 C586.9,538.3 591.4,538.3 594.7,538.3 C597.9,538.3 601.7,538.3 604.3,538.3 C606.9,538.3 608.2,538.5 610.1,538.3 C612.1,538.2 614.1,537.8 615.9,537.4 C617.7,536.9 619.3,536.2 620.7,535.4 C622.2,534.7 623.2,533.0 624.6,532.9 C626.1,532.8 627.7,534.1 629.4,534.8 C631.2,535.6 633.1,536.5 635.2,537.4 C637.3,538.3 639.8,539.2 642.0,540.3 C644.3,541.3 646.5,542.4 648.8,543.7 C651.0,545.1 653.3,547.0 655.5,548.4 C657.8,549.7 660.2,550.7 662.3,551.9 C664.4,553.0 665.8,554.8 668.1,555.3 C670.3,555.8 672.9,554.9 675.8,554.7 C678.7,554.6 682.3,554.3 685.5,554.2 C688.7,554.1 691.9,554.2 695.1,554.2 C698.4,554.2 702.2,554.5 704.8,554.2 C707.4,553.8 708.3,553.0 710.6,552.2 C712.9,551.5 715.4,550.1 718.3,549.5 C721.2,549.0 725.1,549.3 728.0,549.0 C730.9,548.6 733.6,548.6 735.7,547.6 C737.8,546.6 738.9,544.1 740.6,543.2 C742.2,542.2 743.3,541.9 745.4,541.8 C747.5,541.7 750.5,542.4 753.1,542.6 C755.7,542.7 758.6,542.6 760.8,542.6 C763.1,542.5 764.7,542.5 766.6,542.2 C768.6,541.9 770.5,541.4 772.4,540.6 C774.4,539.9 777.0,538.5 778.2,537.9 C779.5,537.4 778.9,537.4 780.0,537.4 C781.1,537.4 783.2,537.4 784.8,537.9 C786.4,538.5 787.9,539.5 789.7,540.6 C791.4,541.7 793.7,543.0 795.5,544.5 C797.2,546.0 798.7,548.1 800.3,549.5 C801.9,550.9 803.7,551.5 805.1,552.8 C806.6,554.1 807.5,555.8 809.0,557.3 C810.4,558.7 812.2,560.5 813.8,561.5 C815.4,562.5 816.9,563.3 818.6,563.4 C820.4,563.6 822.5,562.9 824.4,562.5 C826.4,562.1 828.3,561.4 830.2,561.1 C832.2,560.8 834.3,560.7 836.0,560.5 C837.8,560.4 839.4,560.8 840.9,560.0 C842.3,559.2 843.3,557.2 844.7,555.7 C846.2,554.2 848.0,552.5 849.6,550.9 C851.2,549.3 852.8,547.4 854.4,546.1 C856.0,544.7 857.5,543.6 859.2,542.6 C861.0,541.5 862.8,540.5 865.0,539.9 C867.3,539.2 870.5,539.1 872.8,538.7 C875.0,538.3 876.6,537.5 878.6,537.4 C880.5,537.2 882.7,537.3 884.3,537.9 C886.0,538.6 886.3,540.5 888.2,541.2 C890.1,541.9 893.4,542.3 895.9,542.2 C898.5,542.1 901.1,541.0 903.7,540.6 C906.2,540.3 908.8,539.8 911.4,539.9 C914.0,540.0 916.6,541.2 919.1,541.2 C921.7,541.3 924.3,540.5 926.9,540.3 C929.4,540.0 932.5,540.0 934.6,539.9 C936.7,539.7 937.8,540.0 939.4,539.3 C941.0,538.5 942.5,536.5 944.3,535.4 C946.0,534.4 948.3,533.9 950.0,532.9 C951.8,531.9 953.1,530.3 954.9,529.6 C956.7,528.9 958.7,528.7 960.7,528.7 C962.6,528.7 964.7,529.6 966.5,529.6 C968.2,529.6 970.5,528.8 971.3,528.7" fill="none" stroke="#5858ff" stroke-width="1" stroke-linejoin="round" opacity="1"/>
<path d="M6.8,562.5 C7.6,562.1 9.8,560.6 11.6,560.0 C13.4,559.3 15.6,558.5 17.4,558.6 C19.2,558.7 20.6,560.5 22.2,560.5 C23.8,560.5 25.3,559.4 27.1,558.6 C28.8,557.9 30.9,556.8 32.9,556.1 C34.8,555.4 36.7,555.0 38.6,554.2 C40.6,553.3 42.5,552.0 44.4,550.9 C46.4,549.8 48.6,548.6 50.2,547.6 C51.9,546.6 53.0,546.0 54.1,545.1 C55.2,544.2 56.0,542.4 57.0,542.2 C58.0,542.0 58.5,543.3 59.9,543.7 C61.4,544.2 63.8,544.9 65.7,545.1 C67.6,545.3 69.6,544.9 71.5,545.1 C73.4,545.2 75.4,545.9 77.3,546.1 C79.2,546.2 80.8,546.0 83.1,546.1 C85.3,546.1 88.9,545.5 90.8,546.4 C92.8,547.4 93.4,550.2 94.7,551.9 C96.0,553.5 96.9,554.9 98.6,556.1 C100.2,557.3 102.4,558.5 104.3,559.2 C106.3,559.9 108.2,560.3 110.1,560.5 C112.1,560.8 114.0,560.6 115.9,560.5 C117.9,560.4 120.0,560.2 121.7,560.0 C123.5,559.7 125.0,559.1 126.6,559.2 C128.2,559.3 129.6,560.2 131.4,560.5 C133.2,560.9 135.3,561.4 137.2,561.1 C139.1,560.9 141.2,560.1 143.0,559.2 C144.8,558.3 146.2,557.3 147.8,555.7 C149.4,554.2 151.0,551.4 152.7,549.9 C154.3,548.5 155.9,547.8 157.5,547.0 C159.1,546.2 160.2,545.5 162.3,545.1 C164.4,544.7 167.5,544.6 170.0,544.5 C172.6,544.4 175.2,544.5 177.8,544.5 C180.4,544.5 183.3,544.7 185.5,544.5 C187.8,544.3 189.7,543.3 191.3,543.2 C192.9,543.0 193.4,543.4 195.0,543.7 C196.6,544.1 198.5,544.7 200.8,545.1 C203.1,545.5 206.0,545.9 208.5,546.1 C211.1,546.2 214.0,546.2 216.3,546.1 C218.5,545.9 220.4,544.9 222.1,545.1 C223.7,545.2 224.5,546.3 225.9,547.0 C227.4,547.8 229.1,548.5 230.7,549.5 C232.4,550.6 233.8,552.0 235.6,553.4 C237.4,554.7 239.4,556.3 241.4,557.6 C243.3,559.0 245.2,560.1 247.2,561.5 C249.1,563.0 251.0,564.9 253.0,566.3 C254.9,567.8 257.0,569.1 258.8,570.2 C260.5,571.3 262.0,572.6 263.6,572.7 C265.2,572.8 266.7,571.4 268.4,570.8 C270.2,570.1 272.0,569.4 274.2,568.9 C276.5,568.3 279.4,568.0 282.0,567.7 C284.5,567.4 287.1,567.5 289.7,567.3 C292.3,567.1 294.8,566.7 297.4,566.3 C300.0,566.0 302.9,565.6 305.1,565.0 C307.4,564.3 309.2,562.8 310.9,562.5 C312.7,562.2 314.2,562.5 315.8,563.1 C317.4,563.6 318.2,565.3 320.6,565.8 C323.0,566.2 327.4,565.7 330.3,565.8 C333.2,565.9 335.1,565.9 338.0,566.3 C340.9,566.8 344.8,568.3 347.7,568.3 C350.6,568.3 353.1,566.8 355.4,566.3 C357.6,565.9 359.3,566.0 361.2,565.4 C363.1,564.7 365.0,563.1 367.0,562.5 C368.9,561.9 370.8,561.7 372.8,561.9 C374.7,562.1 376.3,563.2 378.6,563.4 C380.8,563.7 384.4,563.5 386.3,563.4 C388.2,563.4 388.6,562.8 390.0,563.1 C391.4,563.3 393.2,564.0 394.8,565.0 C396.4,566.0 398.1,568.1 399.7,568.9 C401.3,569.6 403.2,569.0 404.5,569.6 C405.8,570.3 405.6,572.1 407.4,572.7 C409.2,573.3 412.5,573.0 415.1,573.1 C417.7,573.2 420.4,573.1 422.9,573.1 C425.3,573.1 427.5,572.7 429.6,573.1 C431.7,573.5 433.5,574.9 435.4,575.4 C437.3,575.9 439.4,576.2 441.2,576.0 C443.0,575.8 444.3,575.0 446.0,574.1 C447.8,573.1 450.1,571.3 451.8,570.2 C453.6,569.1 454.7,568.3 456.7,567.3 C458.6,566.3 461.3,565.6 463.4,564.4 C465.5,563.2 467.6,560.9 469.2,560.0 C470.8,559.0 471.2,558.7 473.1,558.6 C475.0,558.5 478.2,559.1 480.8,559.2 C483.4,559.3 486.6,558.8 488.6,559.2 C490.5,559.6 490.8,561.1 492.4,561.5 C494.0,562.0 496.3,562.0 498.2,561.9 C500.1,561.8 502.1,561.4 504.0,561.1 C505.9,560.9 507.9,561.0 509.8,560.5 C511.7,560.1 513.7,559.5 515.6,558.6 C517.5,557.7 519.5,556.7 521.4,555.3 C523.3,553.9 525.3,551.7 527.2,550.3 C529.1,548.9 531.5,547.7 533.0,547.0 C534.4,546.3 534.8,545.9 535.9,546.1 C537.0,546.2 538.3,547.3 539.8,548.0 C541.2,548.6 542.8,549.3 544.6,549.9 C546.4,550.6 548.1,551.4 550.4,551.9 C552.6,552.3 555.2,552.6 558.1,552.8 C561.0,553.1 564.9,553.5 567.8,553.4 C570.7,553.3 572.9,552.6 575.5,552.2 C578.1,551.9 581.7,551.6 583.2,551.5 C584.8,551.3 583.7,551.7 585.0,551.5 C586.3,551.2 588.5,550.2 590.8,549.9 C593.1,549.6 596.3,549.5 598.5,549.5 C600.8,549.5 602.6,549.9 604.3,549.9 C606.1,549.9 607.5,549.2 609.2,549.5 C610.8,549.9 612.2,550.9 614.0,551.9 C615.8,552.8 618.2,553.9 619.8,555.3 C621.4,556.8 622.2,559.0 623.6,560.5 C625.1,562.1 626.5,563.3 628.5,564.4 C630.4,565.5 632.8,566.2 635.2,566.9 C637.7,567.7 640.4,568.0 643.0,568.9 C645.5,569.7 648.1,571.2 650.7,572.1 C653.3,573.1 656.2,574.0 658.4,574.7 C660.7,575.3 661.7,575.9 664.2,576.0 C666.8,576.1 670.7,575.4 673.9,575.4 C677.1,575.4 680.3,575.9 683.6,576.0 C686.8,576.1 690.3,576.0 693.2,576.0 C696.1,576.0 698.7,576.4 700.9,576.0 C703.2,575.6 704.8,574.2 706.7,573.5 C708.7,572.8 710.3,571.8 712.5,571.6 C714.8,571.3 717.7,572.0 720.3,572.1 C722.8,572.2 725.4,572.2 728.0,572.1 C730.6,572.0 733.8,571.6 735.7,571.6 C737.7,571.6 738.1,572.4 739.6,572.1 C741.0,571.9 742.8,571.4 744.4,570.2 C746.0,569.0 747.5,566.5 749.3,565.0 C751.0,563.5 752.8,561.8 755.0,561.1 C757.3,560.5 760.5,561.1 762.8,561.1 C765.0,561.1 767.0,560.7 768.6,561.1 C770.2,561.6 771.2,562.7 772.4,563.8 C773.7,564.9 775.0,566.5 776.3,567.7 C777.6,568.9 778.4,570.1 780.0,571.2 C781.6,572.2 783.9,573.3 785.8,574.1 C787.7,574.9 789.7,575.5 791.6,576.0 C793.5,576.6 795.1,576.9 797.4,577.4 C799.6,577.8 802.5,579.0 805.1,578.9 C807.7,578.8 810.6,577.2 812.9,576.6 C815.1,576.0 816.4,575.5 818.6,575.4 C820.9,575.3 823.8,575.8 826.4,576.0 C829.0,576.2 831.9,576.6 834.1,576.6 C836.4,576.6 837.8,575.7 839.9,576.0 C842.0,576.3 844.6,578.0 846.7,578.5 C848.8,579.1 850.5,579.5 852.5,579.3 C854.4,579.1 856.5,578.2 858.3,577.4 C860.0,576.5 861.3,575.0 863.1,574.1 C864.9,573.1 867.0,572.4 868.9,571.6 C870.8,570.8 872.9,570.0 874.7,569.2 C876.5,568.5 878.1,568.0 879.5,566.9 C881.0,565.8 882.3,564.0 883.4,562.5 C884.5,560.9 885.3,559.1 886.3,557.6 C887.2,556.2 887.9,554.7 889.2,553.8 C890.5,552.9 892.2,552.6 894.0,552.2 C895.8,551.9 897.6,551.8 899.8,551.9 C902.1,551.9 905.0,553.0 907.5,552.8 C910.1,552.7 912.4,551.2 915.3,550.9 C918.2,550.6 921.7,550.9 924.9,550.9 C928.1,550.9 931.4,550.8 934.6,550.9 C937.8,551.0 941.0,551.2 944.3,551.5 C947.5,551.7 951.0,552.2 953.9,552.2 C956.8,552.3 959.4,552.1 961.6,551.9 C963.9,551.6 965.8,550.9 967.4,550.9 C969.0,550.8 970.7,551.4 971.3,551.5" fill="none" stroke="#5858ff" stroke-width="1" stroke-linejoin="round" opacity="1"/>
<path d="M6.8,549.0 L9.7,548.0 L12.6,544.1 L16.4,541.8 L19.3,537.9 L22.2,537.4 L25.1,534.8 L28.0,534.5 L30.9,532.1 L33.8,536.8 L36.7,534.5 L40.6,535.4 L45.4,536.8 L49.3,536.4 L53.1,534.1 L56.0,531.6 L57.6,537.4 L58.9,543.7 L61.8,543.2 L65.7,544.5 L69.6,540.3 L73.4,535.4 L77.3,532.5 L80.2,533.5 L82.1,536.4 L85.0,539.9 L87.9,539.3 L90.4,537.4 L92.4,546.1 L94.7,551.9 L97.2,556.7 L100.1,550.9 L102.4,554.7 L105.3,555.7 L108.2,551.9 L111.1,547.0 L115.0,543.2 L118.8,540.3 L122.7,536.4 L126.6,534.1 L131.4,530.2 L134.3,532.9 L138.2,534.8 L141.1,543.2 L144.0,539.3 L146.9,541.8 L150.7,539.9 L154.6,537.4 L158.5,534.5 L162.3,532.9 L166.2,531.6 L170.0,532.5 L173.9,534.1 L177.8,534.8 L181.6,537.4 L184.5,540.6 L188.4,538.3 L192.3,539.3 L195.0,542.6 L199.8,544.5 L203.7,539.3 L207.6,539.9 L211.4,541.8 L215.3,542.6 L218.2,536.8 L220.1,536.4 L223.0,539.9 L225.0,546.1 L227.9,547.6 L230.7,552.2 L233.6,553.8 L236.5,549.9 L239.4,553.8 L244.3,560.5 L247.6,554.7 L251.0,560.0 L253.9,562.5 L256.8,566.3 L259.7,562.5 L262.6,566.3 L266.5,560.5 L269.4,561.1 L273.3,555.7 L277.1,556.1 L280.0,557.6 L282.9,560.5 L285.8,556.1 L289.7,556.1 L293.6,556.7 L297.4,555.7 L300.3,556.7 L303.2,559.2 L307.1,562.5 L310.0,559.2 L312.9,560.0 L315.8,563.1 L319.6,566.9 L322.5,560.5 L325.4,561.1 L329.3,556.7 L333.2,554.7 L337.0,552.8 L340.9,550.9 L344.8,552.2 L348.6,551.9 L352.5,554.7 L356.4,556.1 L361.2,557.6 L364.1,556.1 L367.9,560.5 L370.5,561.9 L372.8,558.6 L375.7,560.0 L379.5,557.3 L383.4,556.1 L386.3,558.0 L389.2,561.1 L393.9,564.4 L397.7,566.3 L400.6,570.8 L403.5,569.6 L407.0,572.1 L410.3,565.0 L414.2,563.1 L417.1,563.1 L420.0,566.3 L422.9,562.5 L425.7,558.6 L429.6,556.7 L432.5,552.8 L435.4,549.5 L437.3,549.0 L439.3,550.9 L442.2,549.9 L445.1,554.2 L448.0,554.7 L451.8,556.7 L456.7,554.7 L461.5,552.2 L466.3,553.4 L471.2,555.7 L476.0,556.1 L479.9,553.8 L482.8,549.5 L486.6,549.5 L489.5,548.0 L492.4,541.2 L495.3,543.7 L498.2,544.1 L502.1,540.3 L505.0,541.2 L507.9,543.2 L510.8,539.3 L514.6,541.2 L519.5,542.6 L523.3,537.9 L526.2,537.4 L529.1,539.3 L533.0,536.8 L535.9,541.2 L538.8,549.0 L542.7,548.4 L545.6,549.5 L548.5,547.0 L551.4,548.0 L554.3,544.5 L558.1,547.0 L562.0,545.7 L564.9,545.1 L567.8,547.0 L571.6,545.1 L574.5,546.1 L578.4,540.3 L580.3,538.7 L583.2,540.3 L585.0,540.3 L589.8,542.6 L595.6,544.1 L599.5,549.5 L603.4,545.7 L608.2,543.2 L612.1,549.5 L615.9,552.2 L620.7,554.7 L622.7,560.5 L624.6,566.3 L627.5,560.0 L630.4,563.1 L634.3,558.6 L638.1,559.2 L642.0,561.1 L645.9,562.5 L649.7,568.3 L653.6,569.6 L657.5,571.2 L661.3,573.5 L664.2,572.7 L667.1,561.1 L670.0,563.1 L673.9,558.6 L678.7,558.6 L683.6,560.0 L688.4,563.1 L693.2,565.0 L697.1,568.3 L700.9,571.2 L703.8,565.4 L708.7,553.8 L712.5,552.8 L715.4,551.9 L719.3,556.7 L723.2,557.6 L728.0,559.2 L731.9,554.7 L736.7,552.8 L739.6,544.5 L743.5,546.1 L746.4,545.1 L750.2,546.1 L753.1,546.1 L756.0,554.2 L759.9,551.5 L762.8,550.3 L766.6,554.2 L769.5,561.9 L772.4,563.8 L775.3,565.4 L778.2,568.9 L780.0,570.2 L782.9,565.4 L784.8,563.8 L787.7,566.3 L790.6,568.9 L794.5,570.2 L799.3,570.2 L803.2,570.8 L806.1,574.7 L809.0,572.1 L812.9,572.7 L815.7,573.5 L818.6,568.9 L821.5,564.4 L825.4,563.8 L829.3,563.1 L833.1,562.5 L837.0,565.4 L840.3,567.3 L842.8,554.7 L845.7,554.2 L848.6,552.2 L852.5,547.0 L856.3,548.4 L859.2,547.6 L863.1,544.1 L866.0,548.0 L869.3,553.8 L872.8,549.0 L876.6,545.1 L880.5,544.5 L885.3,544.5 L890.1,545.1 L893.0,549.0 L895.9,548.0 L899.8,549.9 L903.7,544.1 L906.6,542.2 L910.4,543.2 L914.3,547.0 L917.2,549.5 L920.1,548.4 L923.0,545.1 L926.9,544.1 L931.7,541.8 L934.6,546.1 L938.5,547.0 L940.8,539.3 L943.3,536.0 L946.2,534.5 L949.1,535.4 L952.9,531.6 L956.8,534.1 L960.7,536.8 L962.6,547.0 L965.5,543.7 L968.4,546.4 L971.3,545.7" fill="none" stroke="#ff4040" stroke-width="1" stroke-linejoin="round" opacity="1"/>
</g>
<rect x="2" y="4" width="1" height="580" fill="#111"/>
<rect x="2" y="4" width="978" height="1" fill="#444"/>
<rect x="2" y="582.5" width="978" height="1" fill="#444"/>
<rect x="979" y="4" width="1" height="580" fill="#444"/>
<rect x="3" y="372" width="976" height="1" fill="#333"/>
<rect x="3" y="382" width="976" height="2" fill="#b8b8b8"/>
<rect x="3" y="459" width="976" height="2" fill="#b8b8b8"/>
<rect x="3" y="518" width="976" height="2" fill="#b8b8b8"/>
<rect x="24" y="372" width="1" height="6" fill="#222"/>
<text transform="translate(27.2,380.4) scale(1.161,1)" font-size="8.6" fill="#444" text-anchor="start">2018</text>
<rect x="87" y="372" width="1" height="6" fill="#222"/>
<text transform="translate(90.0,380.4) scale(1.161,1)" font-size="8.6" fill="#444" text-anchor="start">Feb</text>
<rect x="134" y="372" width="1" height="6" fill="#222"/>
<text transform="translate(137.5,380.4) scale(1.161,1)" font-size="8.6" fill="#444" text-anchor="start">Mar</text>
<rect x="203" y="372" width="1" height="6" fill="#222"/>
<text transform="translate(206.1,380.4) scale(1.161,1)" font-size="8.6" fill="#444" text-anchor="start">Apr</text>
<rect x="263" y="372" width="1" height="6" fill="#222"/>
<text transform="translate(265.9,380.4) scale(1.161,1)" font-size="8.6" fill="#444" text-anchor="start">May</text>
<rect x="332" y="372" width="1" height="6" fill="#222"/>
<text transform="translate(335.0,380.4) scale(1.161,1)" font-size="8.6" fill="#444" text-anchor="start">Jun</text>
<rect x="398" y="372" width="1" height="6" fill="#222"/>
<text transform="translate(401.3,380.4) scale(1.161,1)" font-size="8.6" fill="#444" text-anchor="start">Jul</text>
<rect x="467" y="372" width="1" height="6" fill="#222"/>
<text transform="translate(469.9,380.4) scale(1.161,1)" font-size="8.6" fill="#444" text-anchor="start">Aug</text>
<rect x="539" y="372" width="1" height="6" fill="#222"/>
<text transform="translate(542.0,380.4) scale(1.161,1)" font-size="8.6" fill="#444" text-anchor="start">Sep</text>
<rect x="598" y="372" width="1" height="6" fill="#222"/>
<text transform="translate(601.1,380.4) scale(1.161,1)" font-size="8.6" fill="#444" text-anchor="start">Oct</text>
<rect x="671" y="372" width="1" height="6" fill="#222"/>
<text transform="translate(674.0,380.4) scale(1.161,1)" font-size="8.6" fill="#444" text-anchor="start">Nov</text>
<rect x="740" y="372" width="1" height="6" fill="#222"/>
<text transform="translate(743.2,380.4) scale(1.161,1)" font-size="8.6" fill="#444" text-anchor="start">Dec</text>
<rect x="803" y="372" width="1" height="6" fill="#222"/>
<text transform="translate(805.9,380.4) scale(1.161,1)" font-size="8.6" fill="#444" text-anchor="start">2019</text>
<rect x="872" y="372" width="1" height="6" fill="#222"/>
<text transform="translate(875.0,380.4) scale(1.161,1)" font-size="8.6" fill="#444" text-anchor="start">Feb</text>
<rect x="919" y="372" width="1" height="6" fill="#222"/>
<text transform="translate(922.0,380.4) scale(1.161,1)" font-size="8.6" fill="#444" text-anchor="start">Mar</text>
<rect x="979" y="73" width="4" height="1" fill="#333"/>
<text transform="translate(1027.0,76.4) scale(1.161,1)" font-size="8.6" fill="#4a4a4a" text-anchor="end">36.0</text>
<rect x="979" y="135" width="4" height="1" fill="#333"/>
<text transform="translate(1027.0,138.4) scale(1.161,1)" font-size="8.6" fill="#4a4a4a" text-anchor="end">32.0</text>
<rect x="979" y="198" width="4" height="1" fill="#333"/>
<text transform="translate(1027.0,201.4) scale(1.161,1)" font-size="8.6" fill="#4a4a4a" text-anchor="end">28.0</text>
<rect x="979" y="260" width="4" height="1" fill="#333"/>
<text transform="translate(1027.0,263.4) scale(1.161,1)" font-size="8.6" fill="#4a4a4a" text-anchor="end">24.0</text>
<rect x="979" y="322" width="4" height="1" fill="#333"/>
<text transform="translate(1027.0,325.4) scale(1.161,1)" font-size="8.6" fill="#4a4a4a" text-anchor="end">20.0</text>
<rect x="979" y="387" width="4" height="1" fill="#333"/>
<text transform="translate(1027.0,390.4) scale(1.161,1)" font-size="8.6" fill="#4a4a4a" text-anchor="end">25M</text>
<rect x="979" y="400" width="4" height="1" fill="#333"/>
<text transform="translate(1027.0,403.4) scale(1.161,1)" font-size="8.6" fill="#4a4a4a" text-anchor="end">20M</text>
<rect x="979" y="413" width="4" height="1" fill="#333"/>
<text transform="translate(1027.0,416.4) scale(1.161,1)" font-size="8.6" fill="#4a4a4a" text-anchor="end">15M</text>
<rect x="979" y="426" width="4" height="1" fill="#333"/>
<text transform="translate(1027.0,429.4) scale(1.161,1)" font-size="8.6" fill="#4a4a4a" text-anchor="end">10M</text>
<rect x="979" y="439" width="4" height="1" fill="#333"/>
<text transform="translate(1027.0,442.4) scale(1.161,1)" font-size="8.6" fill="#4a4a4a" text-anchor="end">5M</text>
<rect x="979" y="465" width="4" height="1" fill="#333"/>
<text transform="translate(1027.0,468.4) scale(1.161,1)" font-size="8.6" fill="#4a4a4a" text-anchor="end">2.40</text>
<rect x="979" y="494" width="4" height="1" fill="#333"/>
<text transform="translate(1027.0,497.4) scale(1.161,1)" font-size="8.6" fill="#4a4a4a" text-anchor="end">0.00</text>
<rect x="979" y="508" width="4" height="1" fill="#333"/>
<text transform="translate(1027.0,511.4) scale(1.161,1)" font-size="8.6" fill="#4a4a4a" text-anchor="end">-1.20</text>
<rect x="979" y="533" width="4" height="1" fill="#333"/>
<text transform="translate(1027.0,536.4) scale(1.161,1)" font-size="8.6" fill="#4a4a4a" text-anchor="end">70.0</text>
<rect x="979" y="568" width="4" height="1" fill="#333"/>
<text transform="translate(1027.0,571.4) scale(1.161,1)" font-size="8.6" fill="#4a4a4a" text-anchor="end">30.0</text>
<rect x="979" y="244.2" width="42" height="10" fill="#cfcfcf"/>
<text transform="translate(983.2,252.3) scale(1.161,1)" font-size="8.6" fill="#333" text-anchor="start">23.6007</text>
<rect x="979" y="254.8" width="36" height="10" fill="#a428a8"/>
<text transform="translate(983.2,262.9) scale(1.161,1)" font-size="8.6" fill="#fff" text-anchor="start">23.306</text>
<rect x="979" y="266.0" width="30" height="10" fill="#ffd800"/>
<text transform="translate(983.2,274.1) scale(1.161,1)" font-size="8.6" fill="#222" text-anchor="start">22.99</text>
<rect x="979" y="276.8" width="30" height="10" fill="#000"/>
<text transform="translate(983.2,284.9) scale(1.161,1)" font-size="8.6" fill="#e8e8e8" text-anchor="start">22.35</text>
<rect x="979" y="287.6" width="42" height="10" fill="#ff2000"/>
<text transform="translate(983.2,295.7) scale(1.161,1)" font-size="8.6" fill="#222" text-anchor="start">21.9375</text>
<rect x="979" y="298.6" width="36" height="10" fill="#00f000"/>
<text transform="translate(983.2,306.7) scale(1.161,1)" font-size="8.6" fill="#222" text-anchor="start">21.356</text>
<rect x="979" y="309.4" width="42" height="10" fill="#cfcfcf"/>
<text transform="translate(983.2,317.5) scale(1.161,1)" font-size="8.6" fill="#333" text-anchor="start">20.8726</text>
<rect x="979" y="320.2" width="36" height="10" fill="#2040ff"/>
<text transform="translate(983.2,328.3) scale(1.161,1)" font-size="8.6" fill="#fff" text-anchor="start">20.779</text>
<rect x="979" y="413.4" width="50" height="10" fill="#ff2000"/>
<text transform="translate(983.2,421.5) scale(1.161,1)" font-size="8.6" fill="#222" text-anchor="start">13,038,40</text>
<g clip-path="url(#cl)">
<rect x="979" y="440.6" width="50" height="10" fill="#ff2000"/>
<text transform="translate(984.8,448.7) scale(1.161,1)" font-size="8.6" fill="#222" text-anchor="start">2,997,150</text>
</g>
<g clip-path="url(#cl)">
<rect x="979" y="451.6" width="50" height="10" fill="#ff2000"/>
<text transform="translate(984.8,459.7) scale(1.161,1)" font-size="8.6" fill="#222" text-anchor="start">1,338,115</text>
</g>
<rect x="979" y="473.4" width="48" height="10" fill="#2040ff"/>
<text transform="translate(983.2,481.5) scale(1.161,1)" font-size="8.6" fill="#fff" text-anchor="start">0.518124</text>
<rect x="979" y="484.0" width="48" height="10" fill="#ff2000"/>
<text transform="translate(983.2,492.1) scale(1.161,1)" font-size="8.6" fill="#222" text-anchor="start">0.479633</text>
<rect x="979" y="524.0" width="42" height="10" fill="#2040ff"/>
<text transform="translate(983.2,532.1) scale(1.161,1)" font-size="8.6" fill="#fff" text-anchor="start">75.1308</text>
<rect x="979" y="540.6" width="42" height="10" fill="#ff2000"/>
<text transform="translate(983.2,548.7) scale(1.161,1)" font-size="8.6" fill="#222" text-anchor="start">56.6468</text>
<rect x="979" y="551.4" width="42" height="10" fill="#2040ff"/>
<text transform="translate(983.2,559.5) scale(1.161,1)" font-size="8.6" fill="#fff" text-anchor="start">49.8926</text>
<rect x="3" y="5" width="1032" height="10" fill="#fff"/>
<rect x="3" y="384" width="493" height="10.2" fill="#fff"/>
<rect x="3" y="461" width="234" height="9.8" fill="#fff"/>
<rect x="3" y="520" width="370" height="9.2" fill="#fff"/>
<g clip-path="url(#ct)">
<text transform="translate(5.8,12.6) scale(1.161,1)" font-size="8.6" xml:space="preserve"><tspan fill="#222">CTG - Daily 3/26/2019 Open 22.45, Hi 22.65, Lo 22.2, Close 22.35 (0.9%) Vol 2,997,150 </tspan><tspan fill="#ff3030">MA(Close,20)</tspan><tspan fill="#222"> = 21.94, </tspan><tspan fill="#3030ff">MA1(Close,50)</tspan><tspan fill="#222"> = 20.78, </tspan><tspan fill="#00e000">MA2(Close,100)</tspan><tspan fill="#222"> = 21.36, </tspan><tspan fill="#c8c8c8">BBTop(Close,15,2)</tspan><tspan fill="#222"> = 23.60, </tspan><tspan fill="#c8c8c8">BBBot(Close,15,2)</tspan><tspan fill="#222"> = 20.87, </tspan><tspan fill="#ffd030">MA3(Close,150) = 22.99</tspan></text>
</g>
<text transform="translate(5.8,391.9) scale(1.1647,1)" font-size="8.6" xml:space="preserve"><tspan fill="#222">CTG - </tspan><tspan fill="#ff3030">Volume()</tspan><tspan fill="#222"> = 2,997,150.00, </tspan><tspan fill="#ff3030">BBTop(Volume(),15,2)</tspan><tspan fill="#222"> = 13,038,406.00, </tspan><tspan fill="#ff3030">BBBot(Volume(),15,2)</tspan><tspan fill="#222"> = 1,338,114.50</tspan></text>
<text transform="translate(5.8,468.8) scale(1.1437,1)" font-size="8.6" xml:space="preserve"><tspan fill="#222">CTG - </tspan><tspan fill="#ff3030">MACD(12,26)</tspan><tspan fill="#222"> = 0.48, </tspan><tspan fill="#3030ff">Signal(12,26,9)</tspan><tspan fill="#222"> = 0.52</tspan></text>
<text transform="translate(5.8,527.0) scale(1.1505,1)" font-size="8.6" xml:space="preserve"><tspan fill="#222">CTG - </tspan><tspan fill="#ff3030">RSI(15)</tspan><tspan fill="#222"> = 56.65, </tspan><tspan fill="#3030ff">BBTop(RSI(15),15,2)</tspan><tspan fill="#222"> = 75.13, </tspan><tspan fill="#3030ff">BBBot(RSI(15),15,2)</tspan><tspan fill="#222"> = 49.89</tspan></text>
<text transform="translate(6.6,590.8) scale(1.178,1)" font-size="6.6" fill="#222" text-anchor="start">Created with AmiBroker - advanced charting and technical analysis software. http://www.amibroker.com</text>
</svg>
</body></html>
